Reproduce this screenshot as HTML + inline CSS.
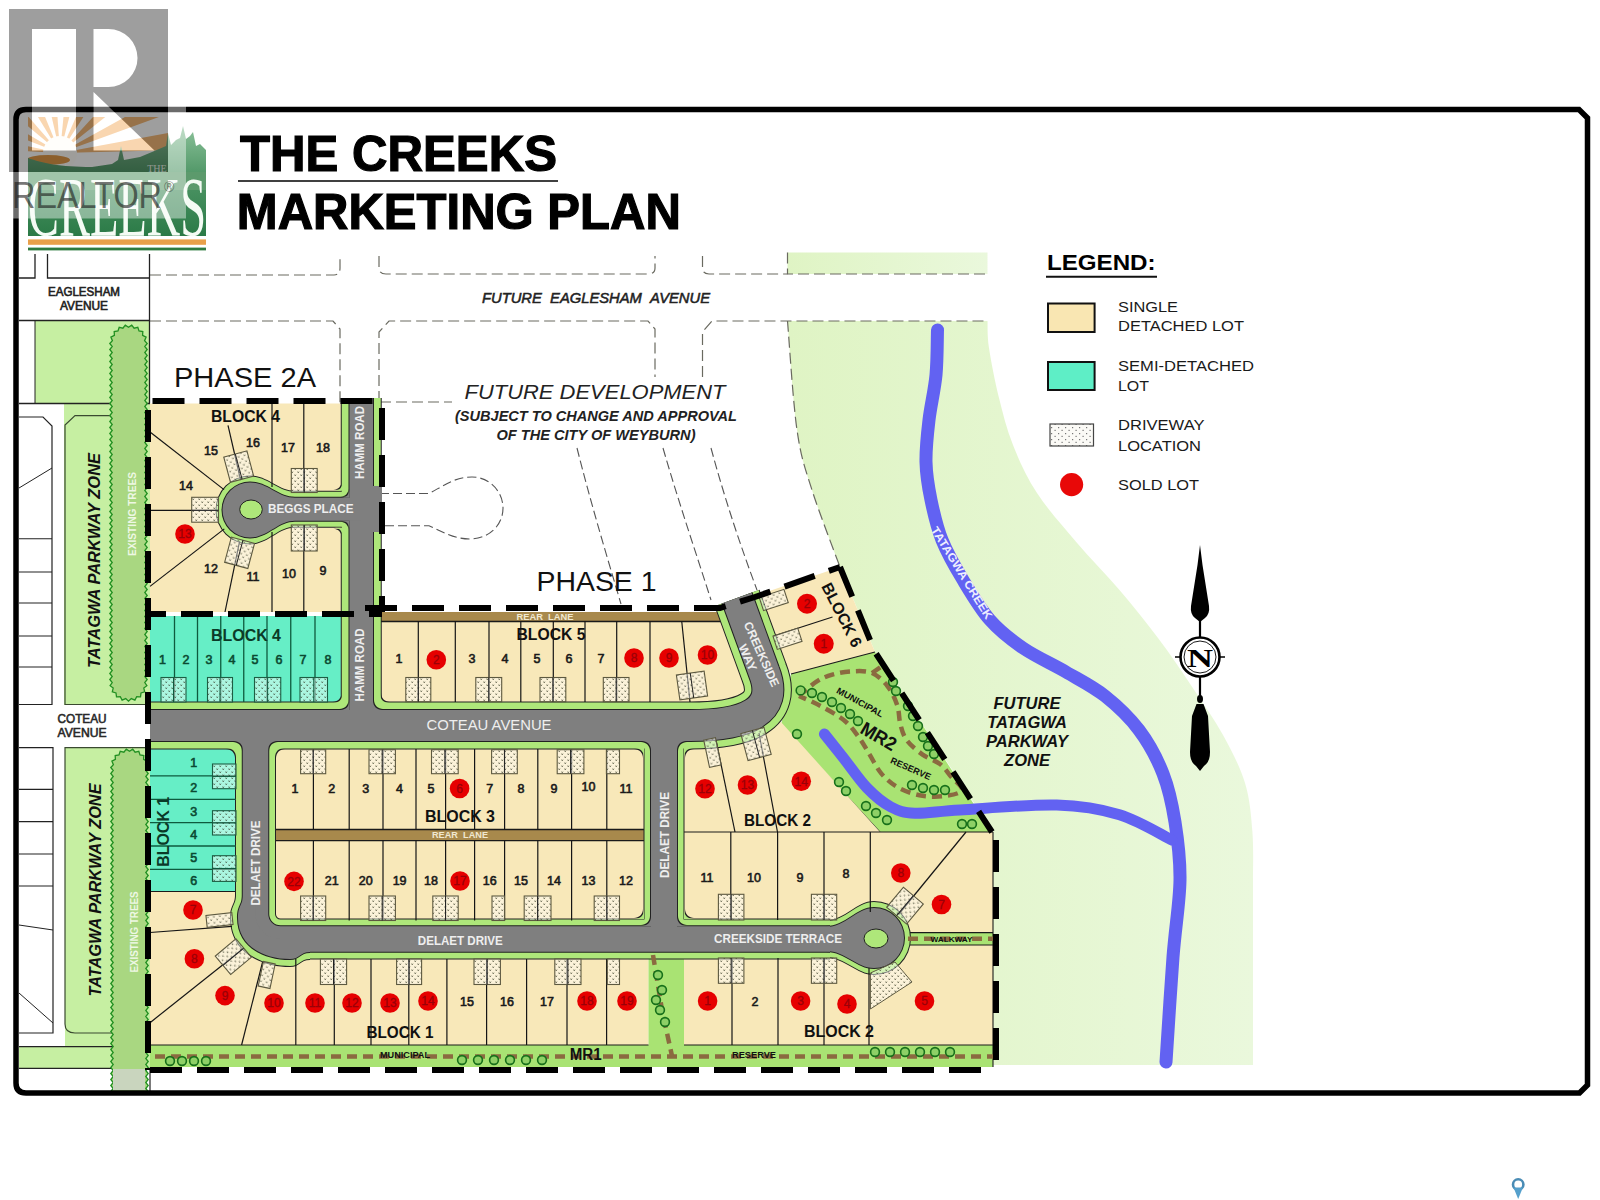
<!DOCTYPE html>
<html><head><meta charset="utf-8"><style>
html,body{margin:0;padding:0;background:#fff;}
body{width:1600px;height:1200px;overflow:hidden;position:relative;}
svg{position:absolute;left:0;top:0;}
text{font-family:"Liberation Sans", sans-serif;}
</style></head><body>
<svg width="1600" height="1200" viewBox="0 0 1600 1200">
<defs><pattern id="dw" width="6" height="6" patternUnits="userSpaceOnUse"><rect width="6" height="6" fill="#ffffff" fill-opacity="0.45"/><path d="M0.5,0.5 L2,2 M2,0.5 L0.5,2 M3.5,3.5 L5,5 M5,3.5 L3.5,5" stroke="#2f3320" stroke-opacity="0.55" stroke-width="0.9"/></pattern></defs>
<defs><linearGradient id="fg" x1="0" y1="0" x2="1" y2="0"><stop offset="0" stop-color="#DFF4C4"/><stop offset="1" stop-color="#EAF8DC"/></linearGradient></defs>
<rect x="787.5" y="252.5" width="200" height="21.5" fill="url(#fg)"/>
<path d="M987.5,321.0 C987.8,325.5 987.1,335.4 989.0,348.0 C990.9,360.6 994.7,380.5 998.7,396.7 C1002.7,412.9 1006.6,428.9 1013.0,445.0 C1019.4,461.1 1026.5,476.9 1037.0,493.0 C1047.5,509.1 1062.2,525.5 1076.0,541.7 C1089.8,557.9 1105.8,574.0 1119.5,590.0 C1133.2,606.0 1145.9,621.9 1158.0,638.0 C1170.1,654.1 1181.2,670.5 1192.0,686.7 C1202.8,702.9 1214.2,719.0 1223.0,735.0 C1231.8,751.0 1240.1,766.9 1245.0,783.0 C1249.9,799.1 1251.1,815.5 1252.4,831.7 C1253.7,847.9 1252.9,872.0 1253.0,880.0 L1253,1065 L993,1065 L993,832 L875,652 L840.0,567.0 C835.3,554.2 819.2,512.8 812.0,490.0 C804.8,467.2 801.1,458.2 797.0,430.0 C792.9,401.8 789.1,339.2 787.5,321.0 Z" fill="url(#fg)" stroke="none" stroke-width="1" />
<path d="M787.5,252.5 L787.5,274 L987.5,274" fill="none" stroke="#6a6a60" stroke-width="1.2" stroke-dasharray="11,5"/>
<path d="M379,256 L379,268 Q379,274 386,274 L648,274 Q655,274 655,268 L655,256" fill="none" stroke="#6a6a60" stroke-width="1.2" stroke-dasharray="11,5"/>
<path d="M702.5,256 L702.5,268 Q702.5,274 709,274 L787.5,274" fill="none" stroke="#6a6a60" stroke-width="1.2" stroke-dasharray="11,5"/>
<path d="M150,275 L334,275 Q340,275 340,268 L340,256" fill="none" stroke="#6a6a60" stroke-width="1.2" stroke-dasharray="11,5"/>
<path d="M150,321 L333,321 L340,329 L340,403" fill="none" stroke="#6a6a60" stroke-width="1.2" stroke-dasharray="11,5"/>
<path d="M379,402 L379,332 L389,321 L648,321 L655,329 L655,377" fill="none" stroke="#6a6a60" stroke-width="1.2" stroke-dasharray="11,5"/>
<path d="M702.5,377 L702.5,332 L712,321 L987.5,321" fill="none" stroke="#6a6a60" stroke-width="1.2" stroke-dasharray="11,5"/>
<path d="M787.5,321.0 C789.1,339.2 792.9,401.8 797.0,430.0 C801.1,458.2 804.8,467.2 812.0,490.0 C819.2,512.8 835.3,554.2 840.0,567.0" fill="none" stroke="#6a6a60" stroke-width="1.2" stroke-dasharray="11,5"/>
<path d="M380,402 L452,402" fill="none" stroke="#6a6a60" stroke-width="1.2" stroke-dasharray="11,5"/>
<path d="M577,448 C590,500 605,550 621,604" fill="none" stroke="#555" stroke-width="1.1" stroke-dasharray="9,4"/>
<path d="M663,448 C678,500 695,550 711,600" fill="none" stroke="#555" stroke-width="1.1" stroke-dasharray="9,4"/>
<path d="M711,448 C725,500 742,550 757,590" fill="none" stroke="#555" stroke-width="1.1" stroke-dasharray="9,4"/>
<path d="M380,493.5 L429,493.5 C445,485 455,477 472,477 C490,477 503,492 503,508 C503,526 488,539 470,539 C455,539 445,533 429,525.7 L380,525.7" fill="none" stroke="#555" stroke-width="1.1" stroke-dasharray="9,4"/>
<defs><clipPath id="clipframe"><rect x="0" y="0" width="1600" height="1091"/></clipPath></defs>
<path d="M35,254 L35,278 L19,278" fill="none" stroke="#222" stroke-width="1.3" />
<path d="M47.5,254 L47.5,278 L149.5,278" fill="none" stroke="#222" stroke-width="1.3" />
<rect x="35" y="320.5" width="114.5" height="83" fill="#C6EFA2"/>
<line x1="19" y1="320.5" x2="149.5" y2="320.5" stroke="#222" stroke-width="1.3" />
<line x1="149.5" y1="254" x2="149.5" y2="403.5" stroke="#222" stroke-width="1.3" />
<line x1="35" y1="320.5" x2="35" y2="403.5" stroke="#222" stroke-width="1" />
<text x="84" y="296" font-size="12" fill="#222" font-weight="normal" font-style="normal" text-anchor="middle" stroke="#222" stroke-width="0.6" textLength="72" lengthAdjust="spacingAndGlyphs">EAGLESHAM</text>
<text x="84" y="309.5" font-size="12" fill="#222" font-weight="normal" font-style="normal" text-anchor="middle" stroke="#222" stroke-width="0.6" textLength="48" lengthAdjust="spacingAndGlyphs">AVENUE</text>
<rect x="64" y="403.5" width="86" height="301.5" fill="#C6EFA2"/>
<path d="M148,415.6 L75,415.6 L65,425 L65,704.5 L148,704.5" fill="none" stroke="#3a4a30" stroke-width="1.2" />
<line x1="19" y1="403.5" x2="150" y2="403.5" stroke="#222" stroke-width="1.5" />
<path d="M19,417 L43,417 L52,426 L52,705" fill="none" stroke="#222" stroke-width="1.2" />
<line x1="19" y1="488" x2="52" y2="468" stroke="#222" stroke-width="1" />
<line x1="19" y1="538.75" x2="52" y2="538.75" stroke="#222" stroke-width="1.2" />
<line x1="19" y1="572" x2="52" y2="572" stroke="#222" stroke-width="1.2" />
<line x1="19" y1="603" x2="52" y2="603" stroke="#222" stroke-width="1.2" />
<line x1="19" y1="636" x2="52" y2="636" stroke="#222" stroke-width="1.2" />
<line x1="19" y1="667" x2="52" y2="667" stroke="#222" stroke-width="1.2" />
<line x1="19" y1="704.5" x2="52" y2="704.5" stroke="#222" stroke-width="1.2" />
<text x="82" y="723" font-size="13" fill="#333" font-weight="normal" font-style="normal" text-anchor="middle" stroke="#222" stroke-width="0.6" textLength="49" lengthAdjust="spacingAndGlyphs">COTEAU</text>
<text x="82" y="736.7" font-size="13" fill="#333" font-weight="normal" font-style="normal" text-anchor="middle" stroke="#222" stroke-width="0.6" textLength="49" lengthAdjust="spacingAndGlyphs">AVENUE</text>
<rect x="65" y="747.5" width="85" height="299" fill="#C6EFA2"/>
<path d="M148,747.7 L65,747.7 L65,1024 Q65,1033 75,1033 L148,1033" fill="none" stroke="#3a4a30" stroke-width="1.2" />
<rect x="19" y="1046.7" width="131" height="21.6" fill="#C6EFA2"/>
<line x1="19" y1="1046.7" x2="150" y2="1046.7" stroke="#222" stroke-width="1.2" />
<line x1="19" y1="1068.3" x2="150" y2="1068.3" stroke="#222" stroke-width="1.2" />
<line x1="150" y1="1068" x2="150" y2="1091" stroke="#222" stroke-width="1.2" />
<path d="M19,747.7 L53,747.7 L53,1033 L19,1033" fill="none" stroke="#222" stroke-width="1.2" />
<line x1="19" y1="789.3" x2="53" y2="789.3" stroke="#222" stroke-width="1.2" />
<line x1="19" y1="821.7" x2="53" y2="821.7" stroke="#222" stroke-width="1.2" />
<line x1="19" y1="854" x2="53" y2="854" stroke="#222" stroke-width="1.2" />
<line x1="19" y1="886" x2="53" y2="886" stroke="#222" stroke-width="1.2" />
<line x1="19" y1="925" x2="53" y2="930" stroke="#222" stroke-width="1" />
<line x1="19" y1="993" x2="53" y2="1023" stroke="#222" stroke-width="1" />
<polygon points="109.8,343.5 112.4,340.7 110.9,337.1 114.4,335.4 114.2,331.5 118.0,331.0 119.2,327.3 122.9,328.2 125.3,325.1 128.5,327.2 131.7,325.1 134.1,328.2 137.8,327.3 139.0,331.0 142.8,331.5 142.6,335.4 146.1,337.1 144.6,340.7 147.2,343.5 144.8,346.5 147.2,349.5 144.8,352.5 147.2,355.5 144.8,358.5 147.2,361.5 144.8,364.5 147.2,367.5 144.8,370.5 147.2,373.5 144.8,376.5 147.2,379.5 144.8,382.5 147.2,385.5 144.8,388.5 147.2,391.5 144.8,394.5 147.2,397.5 144.8,400.5 147.2,403.5 144.8,406.5 147.2,409.5 144.8,412.5 147.2,415.5 144.8,418.5 147.2,421.5 144.8,424.5 147.2,427.5 144.8,430.5 147.2,433.5 144.8,436.5 147.2,439.5 144.8,442.5 147.2,445.5 144.8,448.5 147.2,451.5 144.8,454.5 147.2,457.5 144.8,460.5 147.2,463.5 144.8,466.5 147.2,469.5 144.8,472.5 147.2,475.5 144.8,478.5 147.2,481.5 144.8,484.5 147.2,487.5 144.8,490.5 147.2,493.5 144.8,496.5 147.2,499.5 144.8,502.5 147.2,505.5 144.8,508.5 147.2,511.5 144.8,514.5 147.2,517.5 144.8,520.5 147.2,523.5 144.8,526.5 147.2,529.5 144.8,532.5 147.2,535.5 144.8,538.5 147.2,541.5 144.8,544.5 147.2,547.5 144.8,550.5 147.2,553.5 144.8,556.5 147.2,559.5 144.8,562.5 147.2,565.5 144.8,568.5 147.2,571.5 144.8,574.5 147.2,577.5 144.8,580.5 147.2,583.5 144.8,586.5 147.2,589.5 144.8,592.5 147.2,595.5 144.8,598.5 147.2,601.5 144.8,604.5 147.2,607.5 144.8,610.5 147.2,613.5 144.8,616.5 147.2,619.5 144.8,622.5 147.2,625.5 144.8,628.5 147.2,631.5 144.8,634.5 147.2,637.5 144.8,640.5 147.2,643.5 144.8,646.5 147.2,649.5 144.8,652.5 147.2,655.5 144.8,658.5 147.2,661.5 144.8,664.5 147.2,667.5 144.8,670.5 147.2,673.5 144.8,676.5 147.2,679.5 144.8,682.5 146.9,685.7 143.8,688.1 144.7,691.9 141.0,693.0 140.5,696.8 136.7,696.6 134.9,700.1 131.3,698.6 128.5,701.2 125.7,698.6 122.1,700.1 120.3,696.6 116.5,696.8 116.0,693.0 112.3,691.9 113.2,688.1 110.1,685.7 112.2,682.5 109.8,679.5 112.2,676.5 109.8,673.5 112.2,670.5 109.8,667.5 112.2,664.5 109.8,661.5 112.2,658.5 109.8,655.5 112.2,652.5 109.8,649.5 112.2,646.5 109.8,643.5 112.2,640.5 109.8,637.5 112.2,634.5 109.8,631.5 112.2,628.5 109.8,625.5 112.2,622.5 109.8,619.5 112.2,616.5 109.8,613.5 112.2,610.5 109.8,607.5 112.2,604.5 109.8,601.5 112.2,598.5 109.8,595.5 112.2,592.5 109.8,589.5 112.2,586.5 109.8,583.5 112.2,580.5 109.8,577.5 112.2,574.5 109.8,571.5 112.2,568.5 109.8,565.5 112.2,562.5 109.8,559.5 112.2,556.5 109.8,553.5 112.2,550.5 109.8,547.5 112.2,544.5 109.8,541.5 112.2,538.5 109.8,535.5 112.2,532.5 109.8,529.5 112.2,526.5 109.8,523.5 112.2,520.5 109.8,517.5 112.2,514.5 109.8,511.5 112.2,508.5 109.8,505.5 112.2,502.5 109.8,499.5 112.2,496.5 109.8,493.5 112.2,490.5 109.8,487.5 112.2,484.5 109.8,481.5 112.2,478.5 109.8,475.5 112.2,472.5 109.8,469.5 112.2,466.5 109.8,463.5 112.2,460.5 109.8,457.5 112.2,454.5 109.8,451.5 112.2,448.5 109.8,445.5 112.2,442.5 109.8,439.5 112.2,436.5 109.8,433.5 112.2,430.5 109.8,427.5 112.2,424.5 109.8,421.5 112.2,418.5 109.8,415.5 112.2,412.5 109.8,409.5 112.2,406.5 109.8,403.5 112.2,400.5 109.8,397.5 112.2,394.5 109.8,391.5 112.2,388.5 109.8,385.5 112.2,382.5 109.8,379.5 112.2,376.5 109.8,373.5 112.2,370.5 109.8,367.5 112.2,364.5 109.8,361.5 112.2,358.5 109.8,355.5 112.2,352.5 109.8,349.5 112.2,346.5" fill="#A9D781" stroke="#229022" stroke-width="1.3" clip-path="url(#clipframe)"/>
<polygon points="110.8,767.5 113.4,764.7 111.9,761.1 115.4,759.4 115.2,755.5 119.0,755.0 120.2,751.3 123.9,752.2 126.3,749.1 129.5,751.2 132.7,749.1 135.1,752.2 138.8,751.3 140.0,755.0 143.8,755.5 143.6,759.4 147.1,761.1 145.6,764.7 148.2,767.5 145.8,770.5 148.2,773.5 145.8,776.5 148.2,779.5 145.8,782.5 148.2,785.5 145.8,788.5 148.2,791.5 145.8,794.5 148.2,797.5 145.8,800.5 148.2,803.5 145.8,806.5 148.2,809.5 145.8,812.5 148.2,815.5 145.8,818.5 148.2,821.5 145.8,824.5 148.2,827.5 145.8,830.5 148.2,833.5 145.8,836.5 148.2,839.5 145.8,842.5 148.2,845.5 145.8,848.5 148.2,851.5 145.8,854.5 148.2,857.5 145.8,860.5 148.2,863.5 145.8,866.5 148.2,869.5 145.8,872.5 148.2,875.5 145.8,878.5 148.2,881.5 145.8,884.5 148.2,887.5 145.8,890.5 148.2,893.5 145.8,896.5 148.2,899.5 145.8,902.5 148.2,905.5 145.8,908.5 148.2,911.5 145.8,914.5 148.2,917.5 145.8,920.5 148.2,923.5 145.8,926.5 148.2,929.5 145.8,932.5 148.2,935.5 145.8,938.5 148.2,941.5 145.8,944.5 148.2,947.5 145.8,950.5 148.2,953.5 145.8,956.5 148.2,959.5 145.8,962.5 148.2,965.5 145.8,968.5 148.2,971.5 145.8,974.5 148.2,977.5 145.8,980.5 148.2,983.5 145.8,986.5 148.2,989.5 145.8,992.5 148.2,995.5 145.8,998.5 148.2,1001.5 145.8,1004.5 148.2,1007.5 145.8,1010.5 148.2,1013.5 145.8,1016.5 148.2,1019.5 145.8,1022.5 148.2,1025.5 145.8,1028.5 148.2,1031.5 145.8,1034.5 148.2,1037.5 145.8,1040.5 148.2,1043.5 145.8,1046.5 148.2,1049.5 145.8,1052.5 148.2,1055.5 145.8,1058.5 148.2,1061.5 145.8,1064.5 148.2,1067.5 145.8,1070.5 148.2,1073.5 145.8,1076.5 148.2,1079.5 145.8,1082.5 148.2,1085.5 145.8,1088.5 148.2,1091.5 145.8,1094.5 148.2,1097.5 145.8,1100.5 148.2,1103.5 145.8,1106.5 148.2,1109.5 145.8,1112.5 147.9,1115.7 144.8,1118.1 145.7,1121.8 142.0,1123.0 141.5,1126.8 137.7,1126.6 135.9,1130.1 132.3,1128.6 129.5,1131.2 126.7,1128.6 123.1,1130.1 121.3,1126.6 117.5,1126.8 117.0,1123.0 113.3,1121.8 114.2,1118.1 111.1,1115.7 113.2,1112.5 110.8,1109.5 113.2,1106.5 110.8,1103.5 113.2,1100.5 110.8,1097.5 113.2,1094.5 110.8,1091.5 113.2,1088.5 110.8,1085.5 113.2,1082.5 110.8,1079.5 113.2,1076.5 110.8,1073.5 113.2,1070.5 110.8,1067.5 113.2,1064.5 110.8,1061.5 113.2,1058.5 110.8,1055.5 113.2,1052.5 110.8,1049.5 113.2,1046.5 110.8,1043.5 113.2,1040.5 110.8,1037.5 113.2,1034.5 110.8,1031.5 113.2,1028.5 110.8,1025.5 113.2,1022.5 110.8,1019.5 113.2,1016.5 110.8,1013.5 113.2,1010.5 110.8,1007.5 113.2,1004.5 110.8,1001.5 113.2,998.5 110.8,995.5 113.2,992.5 110.8,989.5 113.2,986.5 110.8,983.5 113.2,980.5 110.8,977.5 113.2,974.5 110.8,971.5 113.2,968.5 110.8,965.5 113.2,962.5 110.8,959.5 113.2,956.5 110.8,953.5 113.2,950.5 110.8,947.5 113.2,944.5 110.8,941.5 113.2,938.5 110.8,935.5 113.2,932.5 110.8,929.5 113.2,926.5 110.8,923.5 113.2,920.5 110.8,917.5 113.2,914.5 110.8,911.5 113.2,908.5 110.8,905.5 113.2,902.5 110.8,899.5 113.2,896.5 110.8,893.5 113.2,890.5 110.8,887.5 113.2,884.5 110.8,881.5 113.2,878.5 110.8,875.5 113.2,872.5 110.8,869.5 113.2,866.5 110.8,863.5 113.2,860.5 110.8,857.5 113.2,854.5 110.8,851.5 113.2,848.5 110.8,845.5 113.2,842.5 110.8,839.5 113.2,836.5 110.8,833.5 113.2,830.5 110.8,827.5 113.2,824.5 110.8,821.5 113.2,818.5 110.8,815.5 113.2,812.5 110.8,809.5 113.2,806.5 110.8,803.5 113.2,800.5 110.8,797.5 113.2,794.5 110.8,791.5 113.2,788.5 110.8,785.5 113.2,782.5 110.8,779.5 113.2,776.5 110.8,773.5 113.2,770.5" fill="#A9D781" stroke="#229022" stroke-width="1.3" clip-path="url(#clipframe)"/>
<rect x="113" y="1069" width="32" height="21" fill="#C9D5BE"/>
<text x="100" y="560.5" font-size="17" fill="#111" font-weight="bold" font-style="italic" text-anchor="middle" transform="rotate(-90 100 560.5)" textLength="215" lengthAdjust="spacingAndGlyphs">TATAGWA PARKWAY ZONE</text>
<text x="135.5" y="514" font-size="11" fill="#EEF7E4" font-weight="bold" font-style="normal" text-anchor="middle" transform="rotate(-90 135.5 514)" textLength="84" lengthAdjust="spacingAndGlyphs">EXISTING TREES</text>
<text x="101" y="890" font-size="17" fill="#111" font-weight="bold" font-style="italic" text-anchor="middle" transform="rotate(-90 101 890)" textLength="213" lengthAdjust="spacingAndGlyphs">TATAGWA PARKWAY ZONE</text>
<text x="137.5" y="932" font-size="11" fill="#EEF7E4" font-weight="bold" font-style="normal" text-anchor="middle" transform="rotate(-90 137.5 932)" textLength="81" lengthAdjust="spacingAndGlyphs">EXISTING TREES</text>
<rect x="150" y="403.5" width="195" height="208.5" fill="#F8E8B9"/>
<rect x="150" y="616" width="195" height="86" fill="#66EEC6"/>
<polygon points="375,621 725,621 765,702 375,702" fill="#F8E8B9" stroke="none" stroke-width="1" />
<rect x="375" y="612" width="347" height="9.3" fill="#A8894C"/>
<line x1="375" y1="621.5" x2="722" y2="621.5" stroke="#1a1a1a" stroke-width="1.5" />
<polygon points="752,597 840,567 875,652 791,674" fill="#F8E8B9" stroke="none" stroke-width="1" />
<polygon points="791,674 875,652 992,832 880,832 781,725" fill="#A9E373" stroke="none" stroke-width="1" />
<line x1="791" y1="674" x2="875" y2="652" stroke="#1a1a1a" stroke-width="1.1" />
<line x1="781" y1="725" x2="880" y2="832" stroke="#1a1a1a" stroke-width="1.1" />
<polygon points="677,741 781,722 880,832 993,832 993,940 677,940" fill="#F8E8B9" stroke="none" stroke-width="1" />
<line x1="684" y1="832" x2="993" y2="832" stroke="#1a1a1a" stroke-width="1.2" />
<rect x="268" y="741" width="383" height="185" fill="#F8E8B9"/>
<rect x="275" y="829.4" width="376" height="11.2" fill="#A8894C"/>
<line x1="275" y1="829.4" x2="651" y2="829.4" stroke="#1a1a1a" stroke-width="1.5" />
<line x1="275" y1="840.6" x2="651" y2="840.6" stroke="#1a1a1a" stroke-width="1.2" />
<rect x="150" y="741" width="93" height="150.5" fill="#66EEC6"/>
<polygon points="150,891.5 243,891.5 243,926 300,926 300,959 648.5,959 648.5,1045 150,1045" fill="#F8E8B9" stroke="none" stroke-width="1" />
<line x1="150" y1="891.5" x2="240" y2="891.5" stroke="#1a1a1a" stroke-width="1.2" />
<rect x="648.5" y="952" width="35.5" height="115" fill="#A9E373"/>
<rect x="684" y="938" width="309" height="107" fill="#F8E8B9"/>
<rect x="150" y="1045" width="843" height="22" fill="#A9E373"/>
<line x1="150" y1="1045" x2="648.5" y2="1045" stroke="#1a1a1a" stroke-width="1.2" />
<line x1="684" y1="1045" x2="993" y2="1045" stroke="#1a1a1a" stroke-width="1.2" />
<rect x="906" y="932.6" width="87" height="12.4" fill="#A9E373"/>
<line x1="906" y1="932.6" x2="993" y2="932.6" stroke="#1a1a1a" stroke-width="1.1" />
<line x1="906" y1="945" x2="993" y2="945" stroke="#1a1a1a" stroke-width="1.1" />
<line x1="993" y1="832" x2="993" y2="1067" stroke="#1a1a1a" stroke-width="1.1" />
<path d="M937.5,330.0 C937.2,337.5 937.4,360.0 936.0,375.0 C934.6,390.0 930.7,405.5 929.0,420.0 C927.3,434.5 925.7,448.7 926.0,462.0 C926.3,475.3 928.3,487.0 931.0,500.0 C933.7,513.0 936.7,526.7 942.0,540.0 C947.3,553.3 955.0,566.7 963.0,580.0 C971.0,593.3 980.0,608.7 990.0,620.0 C1000.0,631.3 1010.3,639.3 1023.0,648.0 C1035.7,656.7 1052.3,664.0 1066.0,672.0 C1079.7,680.0 1092.8,686.3 1105.0,696.0 C1117.2,705.7 1129.3,717.1 1139.0,730.0 C1148.7,742.9 1157.0,758.3 1163.0,773.6 C1169.0,788.9 1172.2,804.3 1175.0,822.0 C1177.8,839.7 1180.3,857.5 1180.0,880.0 C1179.7,902.5 1175.3,926.7 1173.0,957.0 C1170.7,987.3 1167.2,1044.5 1166.0,1062.0" fill="none" stroke="#6262F2" stroke-width="13" stroke-linecap="round"/>
<path d="M824.4,734.0 C827.6,738.0 836.3,748.8 843.4,757.8 C850.5,766.8 859.1,779.7 867.0,787.9 C874.9,796.1 883.0,802.8 891.0,807.0 C899.0,811.2 903.2,812.7 914.7,813.2 C926.2,813.7 936.3,811.4 960.0,810.0 C983.7,808.6 1030.1,804.2 1056.7,805.0 C1083.3,805.8 1100.3,808.9 1119.5,814.7 C1138.7,820.5 1163.2,835.8 1172.0,840.0" fill="none" stroke="#6262F2" stroke-width="11" stroke-linecap="round"/>
<path d="M361.25,398 L361.25,726" fill="none" stroke="#222" stroke-width="41" stroke-linejoin="round"/>
<path d="M150,725.5 L690,725.5 C745,725.5 780,712 764,672 L737,598" fill="none" stroke="#222" stroke-width="48" stroke-linejoin="round"/>
<path d="M255.5,725 L255.5,914 A25,25 0 0 0 280.5,939 L830,939" fill="none" stroke="#222" stroke-width="41" stroke-linejoin="round"/>
<path d="M664,725 L664,939" fill="none" stroke="#222" stroke-width="41" stroke-linejoin="round"/>
<path d="M255.5,880 L235,880 L235,895 C235,905 230,905 230,918 C230,953 262,967 290,967 C300,967 300,960 310,960 L310,939 L280.5,939 A25,25 0 0 1 255.5,914 Z" fill="#222"/>
<path d="M250,475.5 C268,475.5 278,490.7 295,490.7 L361,490.7 L361,527.8 L295,527.8 C278,527.8 268,544.5 250,544.5 A34.5,34.5 0 0 1 250,475.5 Z" fill="#222"/>
<path d="M874,901 A37,37 0 0 1 874,975 C856,975 846,958 826,958 L760,958 L760,920 L826,920 C846,920 856,901 874,901 Z" fill="#222"/>
<polygon points="341.5,702.0 332.5,702.0 334.3,701.8 335.9,701.3 337.5,700.5 338.9,699.4 340.0,698.0 340.8,696.4 341.3,694.8 341.5,693.0" fill="#222"/>
<polygon points="381.0,702.0 390.0,702.0 388.2,701.8 386.6,701.3 385.0,700.5 383.6,699.4 382.5,698.0 381.7,696.4 381.2,694.8 381.0,693.0" fill="#222"/>
<polygon points="235.0,749.0 226.0,749.0 227.8,749.2 229.4,749.7 231.0,750.5 232.4,751.6 233.5,753.0 234.3,754.6 234.8,756.2 235.0,758.0" fill="#222"/>
<polygon points="276.0,749.0 285.0,749.0 283.2,749.2 281.6,749.7 280.0,750.5 278.6,751.6 277.5,753.0 276.7,754.6 276.2,756.2 276.0,758.0" fill="#222"/>
<polygon points="643.0,749.0 634.0,749.0 635.8,749.2 637.4,749.7 639.0,750.5 640.4,751.6 641.5,753.0 642.3,754.6 642.8,756.2 643.0,758.0" fill="#222"/>
<polygon points="685.0,749.0 694.0,749.0 692.2,749.2 690.6,749.7 689.0,750.5 687.6,751.6 686.5,753.0 685.7,754.6 685.2,756.2 685.0,758.0" fill="#222"/>
<polygon points="643.0,918.0 634.0,918.0 635.8,917.8 637.4,917.3 639.0,916.5 640.4,915.4 641.5,914.0 642.3,912.4 642.8,910.8 643.0,909.0" fill="#222"/>
<polygon points="685.0,918.0 694.0,918.0 692.2,917.8 690.6,917.3 689.0,916.5 687.6,915.4 686.5,914.0 685.7,912.4 685.2,910.8 685.0,909.0" fill="#222"/>
<polygon points="341.5,489.7 333.5,489.7 335.1,489.5 336.6,489.1 337.9,488.4 339.2,487.4 340.2,486.1 340.9,484.8 341.3,483.3 341.5,481.7" fill="#222"/>
<polygon points="341.5,528.8 333.5,528.8 335.1,529.0 336.6,529.4 337.9,530.1 339.2,531.1 340.2,532.4 340.9,533.7 341.3,535.2 341.5,536.8" fill="#222"/>
<path d="M361.25,398 L361.25,726" fill="none" stroke="#AEE77A" stroke-width="39" stroke-linejoin="round"/>
<path d="M150,725.5 L690,725.5 C745,725.5 780,712 764,672 L737,598" fill="none" stroke="#AEE77A" stroke-width="46" stroke-linejoin="round"/>
<path d="M255.5,725 L255.5,914 A25,25 0 0 0 280.5,939 L830,939" fill="none" stroke="#AEE77A" stroke-width="39" stroke-linejoin="round"/>
<path d="M664,725 L664,939" fill="none" stroke="#AEE77A" stroke-width="39" stroke-linejoin="round"/>
<path d="M255.5,880 L236,880 L236,895 C236,905 231,905 231,918 C231,952 262,966 290,966 C300,966 300,959 310,959 L310,939 L280.5,939 A25,25 0 0 1 255.5,914 Z" fill="#AEE77A"/>
<path d="M250,476.5 C268,476.5 278,491.7 295,491.7 L361,491.7 L361,526.8 L295,526.8 C278,526.8 268,543.5 250,543.5 A33.5,33.5 0 0 1 250,476.5 Z" fill="#AEE77A"/>
<path d="M874,902 A36,36 0 0 1 874,974 C856,974 846,957 826,957 L760,957 L760,921 L826,921 C846,921 856,902 874,902 Z" fill="#AEE77A"/>
<polygon points="342.5,703.0 333.5,703.0 335.3,702.8 336.9,702.3 338.5,701.5 339.9,700.4 341.0,699.0 341.8,697.4 342.3,695.8 342.5,694.0" fill="#AEE77A"/>
<polygon points="380.0,703.0 389.0,703.0 387.2,702.8 385.6,702.3 384.0,701.5 382.6,700.4 381.5,699.0 380.7,697.4 380.2,695.8 380.0,694.0" fill="#AEE77A"/>
<polygon points="236.0,748.0 227.0,748.0 228.8,748.2 230.4,748.7 232.0,749.5 233.4,750.6 234.5,752.0 235.3,753.6 235.8,755.2 236.0,757.0" fill="#AEE77A"/>
<polygon points="275.0,748.0 284.0,748.0 282.2,748.2 280.6,748.7 279.0,749.5 277.6,750.6 276.5,752.0 275.7,753.6 275.2,755.2 275.0,757.0" fill="#AEE77A"/>
<polygon points="644.0,748.0 635.0,748.0 636.8,748.2 638.4,748.7 640.0,749.5 641.4,750.6 642.5,752.0 643.3,753.6 643.8,755.2 644.0,757.0" fill="#AEE77A"/>
<polygon points="684.0,748.0 693.0,748.0 691.2,748.2 689.6,748.7 688.0,749.5 686.6,750.6 685.5,752.0 684.7,753.6 684.2,755.2 684.0,757.0" fill="#AEE77A"/>
<polygon points="644.0,919.0 635.0,919.0 636.8,918.8 638.4,918.3 640.0,917.5 641.4,916.4 642.5,915.0 643.3,913.4 643.8,911.8 644.0,910.0" fill="#AEE77A"/>
<polygon points="684.0,919.0 693.0,919.0 691.2,918.8 689.6,918.3 688.0,917.5 686.6,916.4 685.5,915.0 684.7,913.4 684.2,911.8 684.0,910.0" fill="#AEE77A"/>
<polygon points="342.5,490.7 334.5,490.7 336.1,490.5 337.6,490.1 338.9,489.4 340.2,488.4 341.2,487.1 341.9,485.8 342.3,484.3 342.5,482.7" fill="#AEE77A"/>
<polygon points="342.5,527.8 334.5,527.8 336.1,528.0 337.6,528.4 338.9,529.1 340.2,530.1 341.2,531.4 341.9,532.7 342.3,534.2 342.5,535.8" fill="#AEE77A"/>
<path d="M361.25,398 L361.25,726" fill="none" stroke="#222" stroke-width="25.5" stroke-linejoin="round"/>
<path d="M150,725.5 L690,725.5 C745,725.5 780,712 764,672 L737,598" fill="none" stroke="#222" stroke-width="33" stroke-linejoin="round"/>
<path d="M255.5,725 L255.5,914 A25,25 0 0 0 280.5,939 L830,939" fill="none" stroke="#222" stroke-width="27.5" stroke-linejoin="round"/>
<path d="M664,725 L664,939" fill="none" stroke="#222" stroke-width="28" stroke-linejoin="round"/>
<path d="M255.5,880 L242,880 L242,895 C242,905 237,905 237,918 C237,946 262,960 290,960 C300,960 300,953 310,953 L310,939 L280.5,939 A25,25 0 0 1 255.5,914 Z" fill="#222"/>
<path d="M250,481.5 C268,481.5 278,496.7 295,496.7 L361,496.7 L361,521.8 L295,521.8 C278,521.8 268,538.5 250,538.5 A28.5,28.5 0 0 1 250,481.5 Z" fill="#222"/>
<path d="M874,907 A31,31 0 0 1 874,969 C856,969 846,952 826,952 L760,952 L760,926 L826,926 C846,926 856,907 874,907 Z" fill="#222"/>
<polygon points="348.5,709.0 339.5,709.0 341.3,708.8 342.9,708.3 344.5,707.5 345.9,706.4 347.0,705.0 347.8,703.4 348.3,701.8 348.5,700.0" fill="#222"/>
<polygon points="374.0,709.0 383.0,709.0 381.2,708.8 379.6,708.3 378.0,707.5 376.6,706.4 375.5,705.0 374.7,703.4 374.2,701.8 374.0,700.0" fill="#222"/>
<polygon points="242.0,742.0 233.0,742.0 234.8,742.2 236.4,742.7 238.0,743.5 239.4,744.6 240.5,746.0 241.3,747.6 241.8,749.2 242.0,751.0" fill="#222"/>
<polygon points="269.0,742.0 278.0,742.0 276.2,742.2 274.6,742.7 273.0,743.5 271.6,744.6 270.5,746.0 269.7,747.6 269.2,749.2 269.0,751.0" fill="#222"/>
<polygon points="650.0,742.0 641.0,742.0 642.8,742.2 644.4,742.7 646.0,743.5 647.4,744.6 648.5,746.0 649.3,747.6 649.8,749.2 650.0,751.0" fill="#222"/>
<polygon points="678.0,742.0 687.0,742.0 685.2,742.2 683.6,742.7 682.0,743.5 680.6,744.6 679.5,746.0 678.7,747.6 678.2,749.2 678.0,751.0" fill="#222"/>
<polygon points="650.0,925.0 641.0,925.0 642.8,924.8 644.4,924.3 646.0,923.5 647.4,922.4 648.5,921.0 649.3,919.4 649.8,917.8 650.0,916.0" fill="#222"/>
<polygon points="678.0,925.0 687.0,925.0 685.2,924.8 683.6,924.3 682.0,923.5 680.6,922.4 679.5,921.0 678.7,919.4 678.2,917.8 678.0,916.0" fill="#222"/>
<polygon points="348.5,496.7 340.5,496.7 342.1,496.5 343.6,496.1 344.9,495.4 346.2,494.4 347.2,493.1 347.9,491.8 348.3,490.3 348.5,488.7" fill="#222"/>
<polygon points="348.5,521.8 340.5,521.8 342.1,522.0 343.6,522.4 344.9,523.1 346.2,524.1 347.2,525.4 347.9,526.7 348.3,528.2 348.5,529.8" fill="#222"/>
<path d="M361.25,398 L361.25,726" fill="none" stroke="#7F7F7F" stroke-width="23.5" stroke-linejoin="round"/>
<path d="M150,725.5 L690,725.5 C745,725.5 780,712 764,672 L737,598" fill="none" stroke="#7F7F7F" stroke-width="31" stroke-linejoin="round"/>
<path d="M255.5,725 L255.5,914 A25,25 0 0 0 280.5,939 L830,939" fill="none" stroke="#7F7F7F" stroke-width="25.5" stroke-linejoin="round"/>
<path d="M664,725 L664,939" fill="none" stroke="#7F7F7F" stroke-width="26" stroke-linejoin="round"/>
<path d="M255.5,880 L243,880 L243,895 C243,905 238,905 238,918 C238,945 262,959 290,959 C300,959 300,952 310,952 L310,939 L280.5,939 A25,25 0 0 1 255.5,914 Z" fill="#7F7F7F"/>
<path d="M250,482.5 C268,482.5 278,497.7 295,497.7 L361,497.7 L361,520.8 L295,520.8 C278,520.8 268,537.5 250,537.5 A27.5,27.5 0 0 1 250,482.5 Z" fill="#7F7F7F"/>
<path d="M874,908 A30,30 0 0 1 874,968 C856,968 846,951 826,951 L760,951 L760,927 L826,927 C846,927 856,908 874,908 Z" fill="#7F7F7F"/>
<polygon points="349.5,710.0 340.5,710.0 342.3,709.8 343.9,709.3 345.5,708.5 346.9,707.4 348.0,706.0 348.8,704.4 349.3,702.8 349.5,701.0" fill="#7F7F7F"/>
<polygon points="373.0,710.0 382.0,710.0 380.2,709.8 378.6,709.3 377.0,708.5 375.6,707.4 374.5,706.0 373.7,704.4 373.2,702.8 373.0,701.0" fill="#7F7F7F"/>
<polygon points="243.0,741.0 234.0,741.0 235.8,741.2 237.4,741.7 239.0,742.5 240.4,743.6 241.5,745.0 242.3,746.6 242.8,748.2 243.0,750.0" fill="#7F7F7F"/>
<polygon points="268.0,741.0 277.0,741.0 275.2,741.2 273.6,741.7 272.0,742.5 270.6,743.6 269.5,745.0 268.7,746.6 268.2,748.2 268.0,750.0" fill="#7F7F7F"/>
<polygon points="651.0,741.0 642.0,741.0 643.8,741.2 645.4,741.7 647.0,742.5 648.4,743.6 649.5,745.0 650.3,746.6 650.8,748.2 651.0,750.0" fill="#7F7F7F"/>
<polygon points="677.0,741.0 686.0,741.0 684.2,741.2 682.6,741.7 681.0,742.5 679.6,743.6 678.5,745.0 677.7,746.6 677.2,748.2 677.0,750.0" fill="#7F7F7F"/>
<polygon points="651.0,926.0 642.0,926.0 643.8,925.8 645.4,925.3 647.0,924.5 648.4,923.4 649.5,922.0 650.3,920.4 650.8,918.8 651.0,917.0" fill="#7F7F7F"/>
<polygon points="677.0,926.0 686.0,926.0 684.2,925.8 682.6,925.3 681.0,924.5 679.6,923.4 678.5,922.0 677.7,920.4 677.2,918.8 677.0,917.0" fill="#7F7F7F"/>
<polygon points="349.5,497.7 341.5,497.7 343.1,497.5 344.6,497.1 345.9,496.4 347.2,495.4 348.2,494.1 348.9,492.8 349.3,491.3 349.5,489.7" fill="#7F7F7F"/>
<polygon points="349.5,520.8 341.5,520.8 343.1,521.0 344.6,521.4 345.9,522.1 347.2,523.1 348.2,524.4 348.9,525.7 349.3,527.2 349.5,528.8" fill="#7F7F7F"/>
<rect x="373" y="486" width="9" height="46" fill="#7F7F7F"/>
<ellipse cx="251" cy="509.5" rx="11.3" ry="9.5" fill="#AEE77A" stroke="#222" stroke-width="1"/>
<ellipse cx="876" cy="938.5" rx="12" ry="9.5" fill="#AEE77A" stroke="#222" stroke-width="1"/>
<line x1="272" y1="403.5" x2="272" y2="487" stroke="#151515" stroke-width="1.2" />
<line x1="272" y1="532" x2="272" y2="612" stroke="#151515" stroke-width="1.2" />
<line x1="303.8" y1="403.5" x2="303.8" y2="493" stroke="#151515" stroke-width="1.2" />
<line x1="303.8" y1="525" x2="303.8" y2="612" stroke="#151515" stroke-width="1.2" />
<line x1="228" y1="425.4" x2="240.6" y2="480" stroke="#151515" stroke-width="1.2" />
<line x1="150" y1="432" x2="224" y2="489.6" stroke="#151515" stroke-width="1.2" />
<line x1="150" y1="510.3" x2="218" y2="510.3" stroke="#151515" stroke-width="1.2" />
<line x1="150" y1="586.4" x2="224.3" y2="528.9" stroke="#151515" stroke-width="1.2" />
<line x1="225" y1="612" x2="239.6" y2="541.3" stroke="#151515" stroke-width="1.2" />
<line x1="174.5" y1="616" x2="174.5" y2="702" stroke="#0E5A3E" stroke-width="1.3" />
<line x1="197.5" y1="616" x2="197.5" y2="702" stroke="#0E5A3E" stroke-width="1.3" />
<line x1="220.75" y1="616" x2="220.75" y2="702" stroke="#0E5A3E" stroke-width="1.3" />
<line x1="243.75" y1="616" x2="243.75" y2="702" stroke="#0E5A3E" stroke-width="1.3" />
<line x1="267" y1="616" x2="267" y2="702" stroke="#0E5A3E" stroke-width="1.3" />
<line x1="290.75" y1="616" x2="290.75" y2="702" stroke="#0E5A3E" stroke-width="1.3" />
<line x1="315" y1="616" x2="315" y2="702" stroke="#0E5A3E" stroke-width="1.3" />
<line x1="418.3" y1="621" x2="418.3" y2="702" stroke="#151515" stroke-width="1.2" />
<line x1="455.3" y1="621" x2="455.3" y2="702" stroke="#151515" stroke-width="1.2" />
<line x1="489" y1="621" x2="489" y2="702" stroke="#151515" stroke-width="1.2" />
<line x1="520.8" y1="621" x2="520.8" y2="702" stroke="#151515" stroke-width="1.2" />
<line x1="553.3" y1="621" x2="553.3" y2="702" stroke="#151515" stroke-width="1.2" />
<line x1="585" y1="621" x2="585" y2="702" stroke="#151515" stroke-width="1.2" />
<line x1="616.7" y1="621" x2="616.7" y2="702" stroke="#151515" stroke-width="1.2" />
<line x1="650" y1="621" x2="650" y2="702" stroke="#151515" stroke-width="1.2" />
<line x1="681.7" y1="621" x2="690" y2="702" stroke="#151515" stroke-width="1.2" />
<line x1="773.75" y1="636" x2="832.5" y2="617" stroke="#151515" stroke-width="1.2" />
<line x1="716" y1="740" x2="735" y2="832" stroke="#151515" stroke-width="1.2" />
<line x1="759" y1="733" x2="777.5" y2="832" stroke="#151515" stroke-width="1.2" />
<line x1="730.8" y1="832" x2="730.8" y2="920" stroke="#151515" stroke-width="1.2" />
<line x1="777.6" y1="832" x2="777.6" y2="920" stroke="#151515" stroke-width="1.2" />
<line x1="824" y1="832" x2="824" y2="920" stroke="#151515" stroke-width="1.2" />
<line x1="870.3" y1="832" x2="870.3" y2="912" stroke="#151515" stroke-width="1.2" />
<line x1="966" y1="832" x2="898.5" y2="914.5" stroke="#151515" stroke-width="1.2" />
<line x1="732" y1="958" x2="732" y2="1045" stroke="#151515" stroke-width="1.2" />
<line x1="778" y1="958" x2="778" y2="1045" stroke="#151515" stroke-width="1.2" />
<line x1="824" y1="958" x2="824" y2="1045" stroke="#151515" stroke-width="1.2" />
<line x1="869" y1="968" x2="869" y2="1045" stroke="#151515" stroke-width="1.2" />
<line x1="313.4" y1="749" x2="313.4" y2="829.4" stroke="#151515" stroke-width="1.2" />
<line x1="313.4" y1="840.6" x2="313.4" y2="920.5" stroke="#151515" stroke-width="1.2" />
<line x1="349.2" y1="749" x2="349.2" y2="829.4" stroke="#151515" stroke-width="1.2" />
<line x1="349.2" y1="840.6" x2="349.2" y2="920.5" stroke="#151515" stroke-width="1.2" />
<line x1="383" y1="749" x2="383" y2="829.4" stroke="#151515" stroke-width="1.2" />
<line x1="383" y1="840.6" x2="383" y2="920.5" stroke="#151515" stroke-width="1.2" />
<line x1="416" y1="749" x2="416" y2="829.4" stroke="#151515" stroke-width="1.2" />
<line x1="416" y1="840.6" x2="416" y2="920.5" stroke="#151515" stroke-width="1.2" />
<line x1="445.6" y1="749" x2="445.6" y2="829.4" stroke="#151515" stroke-width="1.2" />
<line x1="445.6" y1="840.6" x2="445.6" y2="920.5" stroke="#151515" stroke-width="1.2" />
<line x1="474.6" y1="749" x2="474.6" y2="829.4" stroke="#151515" stroke-width="1.2" />
<line x1="474.6" y1="840.6" x2="474.6" y2="920.5" stroke="#151515" stroke-width="1.2" />
<line x1="504.6" y1="749" x2="504.6" y2="829.4" stroke="#151515" stroke-width="1.2" />
<line x1="504.6" y1="840.6" x2="504.6" y2="920.5" stroke="#151515" stroke-width="1.2" />
<line x1="537.8" y1="749" x2="537.8" y2="829.4" stroke="#151515" stroke-width="1.2" />
<line x1="537.8" y1="840.6" x2="537.8" y2="920.5" stroke="#151515" stroke-width="1.2" />
<line x1="571.6" y1="749" x2="571.6" y2="829.4" stroke="#151515" stroke-width="1.2" />
<line x1="571.6" y1="840.6" x2="571.6" y2="920.5" stroke="#151515" stroke-width="1.2" />
<line x1="606.8" y1="749" x2="606.8" y2="829.4" stroke="#151515" stroke-width="1.2" />
<line x1="606.8" y1="840.6" x2="606.8" y2="920.5" stroke="#151515" stroke-width="1.2" />
<line x1="150" y1="775.9" x2="236" y2="775.9" stroke="#0E5A3E" stroke-width="1.3" />
<line x1="150" y1="799.4" x2="236" y2="799.4" stroke="#0E5A3E" stroke-width="1.3" />
<line x1="150" y1="822.6" x2="236" y2="822.6" stroke="#0E5A3E" stroke-width="1.3" />
<line x1="150" y1="846" x2="236" y2="846" stroke="#0E5A3E" stroke-width="1.3" />
<line x1="150" y1="869.4" x2="236" y2="869.4" stroke="#0E5A3E" stroke-width="1.3" />
<line x1="150" y1="932.5" x2="232" y2="926.4" stroke="#151515" stroke-width="1.2" />
<line x1="150" y1="1022.7" x2="242.4" y2="949.2" stroke="#151515" stroke-width="1.2" />
<line x1="241.6" y1="1045" x2="262.6" y2="962" stroke="#151515" stroke-width="1.2" />
<line x1="295.8" y1="959" x2="295.8" y2="1045" stroke="#151515" stroke-width="1.2" />
<line x1="334.3" y1="959" x2="334.3" y2="1045" stroke="#151515" stroke-width="1.2" />
<line x1="371" y1="959" x2="371" y2="1045" stroke="#151515" stroke-width="1.2" />
<line x1="408.8" y1="959" x2="408.8" y2="1045" stroke="#151515" stroke-width="1.2" />
<line x1="446.9" y1="959" x2="446.9" y2="1045" stroke="#151515" stroke-width="1.2" />
<line x1="486.6" y1="959" x2="486.6" y2="1045" stroke="#151515" stroke-width="1.2" />
<line x1="526.6" y1="959" x2="526.6" y2="1045" stroke="#151515" stroke-width="1.2" />
<line x1="567" y1="959" x2="567" y2="1045" stroke="#151515" stroke-width="1.2" />
<line x1="606.6" y1="959" x2="606.6" y2="1045" stroke="#151515" stroke-width="1.2" />
<g transform="rotate(-15 238.7 466.6)"><rect x="226.7" y="453.6" width="24" height="26" fill="url(#dw)" stroke="#5d5940" stroke-width="1.1"/><line x1="238.7" y1="453.6" x2="238.7" y2="479.6" stroke="#222" stroke-width="1"/></g>
<g><rect x="291.3" y="468.5" width="25.9" height="24" fill="url(#dw)" stroke="#5d5940" stroke-width="1.1"/><line x1="304.25" y1="468.5" x2="304.25" y2="492.5" stroke="#222" stroke-width="1"/></g>
<g><rect x="191.7" y="497.3" width="26.8" height="24.9" fill="url(#dw)" stroke="#5d5940" stroke-width="1.1"/></g>
<line x1="191.7" y1="510.3" x2="218.5" y2="510.3" stroke="#222" stroke-width="1" />
<g transform="rotate(15 239.6 552.8)"><rect x="227.6" y="539.8" width="24" height="26" fill="url(#dw)" stroke="#5d5940" stroke-width="1.1"/><line x1="239.6" y1="539.8" x2="239.6" y2="565.8" stroke="#222" stroke-width="1"/></g>
<g><rect x="291.3" y="525" width="25.9" height="26" fill="url(#dw)" stroke="#5d5940" stroke-width="1.1"/><line x1="304.25" y1="525" x2="304.25" y2="551" stroke="#222" stroke-width="1"/></g>
<g><rect x="161" y="677.5" width="25" height="24.5" fill="url(#dw)" stroke="#1d5e44" stroke-width="1.1"/><line x1="173.5" y1="677.5" x2="173.5" y2="702.0" stroke="#0E5A3E" stroke-width="1"/></g>
<g><rect x="207.5" y="677.5" width="25.0" height="24.5" fill="url(#dw)" stroke="#1d5e44" stroke-width="1.1"/><line x1="220.0" y1="677.5" x2="220.0" y2="702.0" stroke="#0E5A3E" stroke-width="1"/></g>
<g><rect x="254.5" y="677.5" width="26.25" height="24.5" fill="url(#dw)" stroke="#1d5e44" stroke-width="1.1"/><line x1="267.625" y1="677.5" x2="267.625" y2="702.0" stroke="#0E5A3E" stroke-width="1"/></g>
<g><rect x="300" y="677.5" width="27.5" height="24.5" fill="url(#dw)" stroke="#1d5e44" stroke-width="1.1"/><line x1="313.75" y1="677.5" x2="313.75" y2="702.0" stroke="#0E5A3E" stroke-width="1"/></g>
<g><rect x="405.8" y="677.5" width="25.0" height="24.2" fill="url(#dw)" stroke="#5d5940" stroke-width="1.1"/><line x1="418.3" y1="677.5" x2="418.3" y2="701.7" stroke="#222" stroke-width="1"/></g>
<g><rect x="475.8" y="677.5" width="25.899999999999977" height="24.2" fill="url(#dw)" stroke="#5d5940" stroke-width="1.1"/><line x1="488.75" y1="677.5" x2="488.75" y2="701.7" stroke="#222" stroke-width="1"/></g>
<g><rect x="540" y="677.5" width="25.799999999999955" height="24.2" fill="url(#dw)" stroke="#5d5940" stroke-width="1.1"/><line x1="552.9" y1="677.5" x2="552.9" y2="701.7" stroke="#222" stroke-width="1"/></g>
<g><rect x="603.3" y="677.5" width="25.700000000000045" height="24.2" fill="url(#dw)" stroke="#5d5940" stroke-width="1.1"/><line x1="616.15" y1="677.5" x2="616.15" y2="701.7" stroke="#222" stroke-width="1"/></g>
<g transform="rotate(-8 692.0 685.5)"><rect x="678.0" y="673.0" width="28" height="25" fill="url(#dw)" stroke="#5d5940" stroke-width="1.1"/><line x1="692.0" y1="673.0" x2="692.0" y2="698.0" stroke="#222" stroke-width="1"/></g>
<g transform="rotate(-18 773.75 600.0)"><rect x="760.75" y="593.0" width="26" height="14" fill="url(#dw)" stroke="#5d5940" stroke-width="1.1"/></g>
<g transform="rotate(-18 787.5 638.75)"><rect x="774.5" y="631.75" width="26" height="14" fill="url(#dw)" stroke="#5d5940" stroke-width="1.1"/></g>
<g transform="rotate(-12 712.5 752.5)"><rect x="706.5" y="738.5" width="12" height="28" fill="url(#dw)" stroke="#5d5940" stroke-width="1.1"/></g>
<g transform="rotate(-15 756.0 744.0)"><rect x="744.0" y="730.0" width="24" height="28" fill="url(#dw)" stroke="#5d5940" stroke-width="1.1"/><line x1="756.0" y1="730.0" x2="756.0" y2="758.0" stroke="#222" stroke-width="1"/></g>
<g><rect x="718.4" y="894.3" width="25.5" height="25.7" fill="url(#dw)" stroke="#5d5940" stroke-width="1.1"/><line x1="731.15" y1="894.3" x2="731.15" y2="920.0" stroke="#222" stroke-width="1"/></g>
<g><rect x="811.4" y="894.3" width="25.3" height="25.7" fill="url(#dw)" stroke="#5d5940" stroke-width="1.1"/><line x1="824.05" y1="894.3" x2="824.05" y2="920.0" stroke="#222" stroke-width="1"/></g>
<g transform="rotate(40 905.0 905.6)"><rect x="892.0" y="892.6" width="26" height="26" fill="url(#dw)" stroke="#5d5940" stroke-width="1.1"/><line x1="905.0" y1="892.6" x2="905.0" y2="918.6" stroke="#222" stroke-width="1"/></g>
<g><rect x="718.4" y="958" width="25.5" height="25.3" fill="url(#dw)" stroke="#5d5940" stroke-width="1.1"/><line x1="731.15" y1="958" x2="731.15" y2="983.3" stroke="#222" stroke-width="1"/></g>
<g><rect x="811.4" y="958" width="25.3" height="25.3" fill="url(#dw)" stroke="#5d5940" stroke-width="1.1"/><line x1="824.05" y1="958" x2="824.05" y2="983.3" stroke="#222" stroke-width="1"/></g>
<polygon points="870.4,973 895,962 912,982 870.4,1009" fill="url(#dw)" stroke="#5d5940" stroke-width="1"/>
<g><rect x="300.6" y="749.7" width="25.099999999999966" height="24" fill="url(#dw)" stroke="#5d5940" stroke-width="1.1"/><line x1="313.15" y1="749.7" x2="313.15" y2="773.7" stroke="#222" stroke-width="1"/></g>
<g><rect x="369" y="749.7" width="26.399999999999977" height="24" fill="url(#dw)" stroke="#5d5940" stroke-width="1.1"/><line x1="382.2" y1="749.7" x2="382.2" y2="773.7" stroke="#222" stroke-width="1"/></g>
<g><rect x="431.5" y="749.7" width="26.69999999999999" height="24" fill="url(#dw)" stroke="#5d5940" stroke-width="1.1"/><line x1="444.85" y1="749.7" x2="444.85" y2="773.7" stroke="#222" stroke-width="1"/></g>
<g><rect x="491.6" y="749.7" width="25.699999999999932" height="24" fill="url(#dw)" stroke="#5d5940" stroke-width="1.1"/><line x1="504.45" y1="749.7" x2="504.45" y2="773.7" stroke="#222" stroke-width="1"/></g>
<g><rect x="557.2" y="749.7" width="26.699999999999932" height="24" fill="url(#dw)" stroke="#5d5940" stroke-width="1.1"/><line x1="570.55" y1="749.7" x2="570.55" y2="773.7" stroke="#222" stroke-width="1"/></g>
<g><rect x="606.4" y="749.7" width="13.1" height="24" fill="url(#dw)" stroke="#5d5940" stroke-width="1.1"/></g>
<g><rect x="300.6" y="896" width="25.099999999999966" height="24.5" fill="url(#dw)" stroke="#5d5940" stroke-width="1.1"/><line x1="313.15" y1="896" x2="313.15" y2="920.5" stroke="#222" stroke-width="1"/></g>
<g><rect x="369" y="896" width="26.399999999999977" height="24.5" fill="url(#dw)" stroke="#5d5940" stroke-width="1.1"/><line x1="382.2" y1="896" x2="382.2" y2="920.5" stroke="#222" stroke-width="1"/></g>
<g><rect x="432.8" y="896" width="25.399999999999977" height="24.5" fill="url(#dw)" stroke="#5d5940" stroke-width="1.1"/><line x1="445.5" y1="896" x2="445.5" y2="920.5" stroke="#222" stroke-width="1"/></g>
<g><rect x="524.2" y="896" width="26.799999999999955" height="24.5" fill="url(#dw)" stroke="#5d5940" stroke-width="1.1"/><line x1="537.6" y1="896" x2="537.6" y2="920.5" stroke="#222" stroke-width="1"/></g>
<g><rect x="594.2" y="896" width="25.299999999999955" height="24.5" fill="url(#dw)" stroke="#5d5940" stroke-width="1.1"/><line x1="606.85" y1="896" x2="606.85" y2="920.5" stroke="#222" stroke-width="1"/></g>
<g><rect x="492" y="896" width="12.5" height="24.5" fill="url(#dw)" stroke="#5d5940" stroke-width="1.1"/></g>
<g><rect x="212.5" y="764" width="23.5" height="24.700000000000045" fill="url(#dw)" stroke="#1d5e44" stroke-width="1.1"/></g>
<line x1="212.5" y1="776.35" x2="236" y2="776.35" stroke="#0E5A3E" stroke-width="1.2" />
<g><rect x="212.5" y="810.7" width="23.5" height="24.299999999999955" fill="url(#dw)" stroke="#1d5e44" stroke-width="1.1"/></g>
<line x1="212.5" y1="822.85" x2="236" y2="822.85" stroke="#0E5A3E" stroke-width="1.2" />
<g><rect x="212.5" y="855.7" width="23.5" height="25.699999999999932" fill="url(#dw)" stroke="#1d5e44" stroke-width="1.1"/></g>
<line x1="212.5" y1="868.55" x2="236" y2="868.55" stroke="#0E5A3E" stroke-width="1.2" />
<g transform="rotate(-6 219.5 920.0)"><rect x="206.5" y="914.0" width="26" height="12" fill="url(#dw)" stroke="#5d5940" stroke-width="1.1"/></g>
<g transform="rotate(50 233.3 956.7)"><rect x="221.3" y="943.2" width="24" height="27" fill="url(#dw)" stroke="#5d5940" stroke-width="1.1"/><line x1="233.3" y1="943.2" x2="233.3" y2="970.2" stroke="#222" stroke-width="1"/></g>
<g transform="rotate(12 266.7 975.0)"><rect x="260.7" y="962.5" width="12" height="25" fill="url(#dw)" stroke="#5d5940" stroke-width="1.1"/></g>
<g><rect x="320.4" y="959" width="26.200000000000045" height="25.5" fill="url(#dw)" stroke="#5d5940" stroke-width="1.1"/><line x1="333.5" y1="959" x2="333.5" y2="984.5" stroke="#222" stroke-width="1"/></g>
<g><rect x="396.6" y="959" width="25.0" height="25.5" fill="url(#dw)" stroke="#5d5940" stroke-width="1.1"/><line x1="409.1" y1="959" x2="409.1" y2="984.5" stroke="#222" stroke-width="1"/></g>
<g><rect x="474" y="959" width="26.399999999999977" height="25.5" fill="url(#dw)" stroke="#5d5940" stroke-width="1.1"/><line x1="487.2" y1="959" x2="487.2" y2="984.5" stroke="#222" stroke-width="1"/></g>
<g><rect x="554.8" y="959" width="26.200000000000045" height="25.5" fill="url(#dw)" stroke="#5d5940" stroke-width="1.1"/><line x1="567.9" y1="959" x2="567.9" y2="984.5" stroke="#222" stroke-width="1"/></g>
<g><rect x="607.3" y="959" width="12.2" height="25.5" fill="url(#dw)" stroke="#5d5940" stroke-width="1.1"/></g>
<path d="M155,1056.5 L993,1056.5" stroke="#8B6A40" stroke-width="4.5" fill="none" stroke-dasharray="10,6"/>
<path d="M653,955 L662,1010 L672,1056" stroke="#8B6A40" stroke-width="4.5" fill="none" stroke-dasharray="10,6"/>
<path d="M908,938.8 L993,938.8" stroke="#8B6A40" stroke-width="4.5" fill="none" stroke-dasharray="10,6"/>
<path d="M872,673 L884.6,664.3" stroke="#8B6A40" stroke-width="4.5" fill="none" stroke-dasharray="10,6"/>
<path d="M799.0,696.0 C801.9,693.6 811.0,685.3 816.5,681.7 C822.0,678.1 826.5,676.3 832.3,674.6 C838.1,672.9 844.7,671.7 851.3,671.4 C857.9,671.1 865.9,670.5 872.0,673.0 C878.1,675.5 883.6,681.1 887.8,686.5 C892.0,691.9 895.2,699.2 897.3,705.5 C899.4,711.8 898.8,718.7 900.4,724.5 C902.0,730.3 903.1,735.3 906.8,740.3 C910.5,745.3 917.1,750.6 922.6,754.6 C928.1,758.6 935.2,760.3 940.0,764.0 C944.8,767.7 947.5,772.5 951.2,776.8 C954.9,781.1 962.8,786.8 962.0,790.0 C961.2,793.2 953.0,794.8 946.4,795.8 C939.8,796.8 930.5,797.1 922.6,795.8 C914.7,794.5 905.8,791.6 898.9,787.9 C892.0,784.2 886.4,779.4 881.4,773.6 C876.4,767.8 872.7,759.3 868.7,753.0 C864.8,746.7 861.9,741.1 857.7,735.6 C853.5,730.1 849.8,724.7 843.4,719.7 C837.0,714.7 827.0,709.5 819.6,705.5 C812.2,701.5 802.4,697.6 799.0,696.0" stroke="#8B6A40" stroke-width="4.5" fill="none" stroke-dasharray="10,6"/>
<circle cx="800.6" cy="690.4" r="4.4" fill="#8ED066" stroke="#17701a" stroke-width="1.6"/>
<circle cx="812" cy="693" r="4.4" fill="#8ED066" stroke="#17701a" stroke-width="1.6"/>
<circle cx="822" cy="697" r="4.4" fill="#8ED066" stroke="#17701a" stroke-width="1.6"/>
<circle cx="832" cy="702" r="4.4" fill="#8ED066" stroke="#17701a" stroke-width="1.6"/>
<circle cx="841" cy="708" r="4.4" fill="#8ED066" stroke="#17701a" stroke-width="1.6"/>
<circle cx="850" cy="714" r="4.4" fill="#8ED066" stroke="#17701a" stroke-width="1.6"/>
<circle cx="858" cy="721" r="4.4" fill="#8ED066" stroke="#17701a" stroke-width="1.6"/>
<circle cx="893" cy="682" r="4.4" fill="#8ED066" stroke="#17701a" stroke-width="1.6"/>
<circle cx="896" cy="691" r="4.4" fill="#8ED066" stroke="#17701a" stroke-width="1.6"/>
<circle cx="908" cy="706" r="4.4" fill="#8ED066" stroke="#17701a" stroke-width="1.6"/>
<circle cx="913" cy="716" r="4.4" fill="#8ED066" stroke="#17701a" stroke-width="1.6"/>
<circle cx="918" cy="726" r="4.4" fill="#8ED066" stroke="#17701a" stroke-width="1.6"/>
<circle cx="923" cy="737" r="4.4" fill="#8ED066" stroke="#17701a" stroke-width="1.6"/>
<circle cx="928" cy="746" r="4.4" fill="#8ED066" stroke="#17701a" stroke-width="1.6"/>
<circle cx="934" cy="754" r="4.4" fill="#8ED066" stroke="#17701a" stroke-width="1.6"/>
<circle cx="912" cy="785" r="4.4" fill="#8ED066" stroke="#17701a" stroke-width="1.6"/>
<circle cx="923" cy="788" r="4.4" fill="#8ED066" stroke="#17701a" stroke-width="1.6"/>
<circle cx="934" cy="790" r="4.4" fill="#8ED066" stroke="#17701a" stroke-width="1.6"/>
<circle cx="945" cy="790" r="4.4" fill="#8ED066" stroke="#17701a" stroke-width="1.6"/>
<circle cx="797" cy="734" r="4.4" fill="#8ED066" stroke="#17701a" stroke-width="1.6"/>
<circle cx="839" cy="782" r="4.4" fill="#8ED066" stroke="#17701a" stroke-width="1.6"/>
<circle cx="846" cy="791" r="4.4" fill="#8ED066" stroke="#17701a" stroke-width="1.6"/>
<circle cx="866" cy="806" r="4.4" fill="#8ED066" stroke="#17701a" stroke-width="1.6"/>
<circle cx="876" cy="813" r="4.4" fill="#8ED066" stroke="#17701a" stroke-width="1.6"/>
<circle cx="887" cy="820" r="4.4" fill="#8ED066" stroke="#17701a" stroke-width="1.6"/>
<circle cx="962" cy="824" r="4.4" fill="#8ED066" stroke="#17701a" stroke-width="1.6"/>
<circle cx="972" cy="824" r="4.4" fill="#8ED066" stroke="#17701a" stroke-width="1.6"/>
<circle cx="658" cy="975" r="4.4" fill="#8ED066" stroke="#17701a" stroke-width="1.6"/>
<circle cx="662" cy="990" r="4.4" fill="#8ED066" stroke="#17701a" stroke-width="1.6"/>
<circle cx="656" cy="1000" r="4.4" fill="#8ED066" stroke="#17701a" stroke-width="1.6"/>
<circle cx="660" cy="1010" r="4.4" fill="#8ED066" stroke="#17701a" stroke-width="1.6"/>
<circle cx="665" cy="1022" r="4.4" fill="#8ED066" stroke="#17701a" stroke-width="1.6"/>
<circle cx="170" cy="1061" r="4.4" fill="#8ED066" stroke="#17701a" stroke-width="1.6"/>
<circle cx="182" cy="1061" r="4.4" fill="#8ED066" stroke="#17701a" stroke-width="1.6"/>
<circle cx="194" cy="1061" r="4.4" fill="#8ED066" stroke="#17701a" stroke-width="1.6"/>
<circle cx="206" cy="1061" r="4.4" fill="#8ED066" stroke="#17701a" stroke-width="1.6"/>
<circle cx="875" cy="1052" r="4.4" fill="#8ED066" stroke="#17701a" stroke-width="1.6"/>
<circle cx="890" cy="1052" r="4.4" fill="#8ED066" stroke="#17701a" stroke-width="1.6"/>
<circle cx="905" cy="1052" r="4.4" fill="#8ED066" stroke="#17701a" stroke-width="1.6"/>
<circle cx="920" cy="1052" r="4.4" fill="#8ED066" stroke="#17701a" stroke-width="1.6"/>
<circle cx="935" cy="1052" r="4.4" fill="#8ED066" stroke="#17701a" stroke-width="1.6"/>
<circle cx="950" cy="1052" r="4.4" fill="#8ED066" stroke="#17701a" stroke-width="1.6"/>
<circle cx="462" cy="1060" r="4.4" fill="#8ED066" stroke="#17701a" stroke-width="1.6"/>
<circle cx="478" cy="1060" r="4.4" fill="#8ED066" stroke="#17701a" stroke-width="1.6"/>
<circle cx="494" cy="1060" r="4.4" fill="#8ED066" stroke="#17701a" stroke-width="1.6"/>
<circle cx="510" cy="1060" r="4.4" fill="#8ED066" stroke="#17701a" stroke-width="1.6"/>
<circle cx="526" cy="1060" r="4.4" fill="#8ED066" stroke="#17701a" stroke-width="1.6"/>
<circle cx="542" cy="1060" r="4.4" fill="#8ED066" stroke="#17701a" stroke-width="1.6"/>
<text x="211" y="454.5" font-size="12.5" fill="#1a1a1a" font-weight="normal" font-style="normal" text-anchor="middle" stroke="#1a1a1a" stroke-width="0.6">15</text>
<text x="253" y="446.5" font-size="12.5" fill="#1a1a1a" font-weight="normal" font-style="normal" text-anchor="middle" stroke="#1a1a1a" stroke-width="0.6">16</text>
<text x="288" y="451.5" font-size="12.5" fill="#1a1a1a" font-weight="normal" font-style="normal" text-anchor="middle" stroke="#1a1a1a" stroke-width="0.6">17</text>
<text x="323" y="451.5" font-size="12.5" fill="#1a1a1a" font-weight="normal" font-style="normal" text-anchor="middle" stroke="#1a1a1a" stroke-width="0.6">18</text>
<text x="186" y="489.5" font-size="12.5" fill="#1a1a1a" font-weight="normal" font-style="normal" text-anchor="middle" stroke="#1a1a1a" stroke-width="0.6">14</text>
<text x="211" y="572.5" font-size="12.5" fill="#1a1a1a" font-weight="normal" font-style="normal" text-anchor="middle" stroke="#1a1a1a" stroke-width="0.6">12</text>
<text x="253" y="580.5" font-size="12.5" fill="#1a1a1a" font-weight="normal" font-style="normal" text-anchor="middle" stroke="#1a1a1a" stroke-width="0.6">11</text>
<text x="289" y="577.5" font-size="12.5" fill="#1a1a1a" font-weight="normal" font-style="normal" text-anchor="middle" stroke="#1a1a1a" stroke-width="0.6">10</text>
<text x="323" y="574.5" font-size="12.5" fill="#1a1a1a" font-weight="normal" font-style="normal" text-anchor="middle" stroke="#1a1a1a" stroke-width="0.6">9</text>
<circle cx="185" cy="534" r="9.8" fill="#E60000"/>
<text x="185" y="538.3" font-size="12" fill="#9a0008" font-weight="normal" font-style="normal" text-anchor="middle" stroke="#9a0008" stroke-width="0.3">13</text>
<text x="162.5" y="663.5" font-size="12.5" fill="#0B4A32" font-weight="normal" font-style="normal" text-anchor="middle" stroke="#0B4A32" stroke-width="0.6">1</text>
<text x="186" y="663.5" font-size="12.5" fill="#0B4A32" font-weight="normal" font-style="normal" text-anchor="middle" stroke="#0B4A32" stroke-width="0.6">2</text>
<text x="209" y="663.5" font-size="12.5" fill="#0B4A32" font-weight="normal" font-style="normal" text-anchor="middle" stroke="#0B4A32" stroke-width="0.6">3</text>
<text x="232" y="663.5" font-size="12.5" fill="#0B4A32" font-weight="normal" font-style="normal" text-anchor="middle" stroke="#0B4A32" stroke-width="0.6">4</text>
<text x="255" y="663.5" font-size="12.5" fill="#0B4A32" font-weight="normal" font-style="normal" text-anchor="middle" stroke="#0B4A32" stroke-width="0.6">5</text>
<text x="279" y="663.5" font-size="12.5" fill="#0B4A32" font-weight="normal" font-style="normal" text-anchor="middle" stroke="#0B4A32" stroke-width="0.6">6</text>
<text x="303" y="663.5" font-size="12.5" fill="#0B4A32" font-weight="normal" font-style="normal" text-anchor="middle" stroke="#0B4A32" stroke-width="0.6">7</text>
<text x="328" y="663.5" font-size="12.5" fill="#0B4A32" font-weight="normal" font-style="normal" text-anchor="middle" stroke="#0B4A32" stroke-width="0.6">8</text>
<text x="399" y="662.5" font-size="12.5" fill="#1a1a1a" font-weight="normal" font-style="normal" text-anchor="middle" stroke="#1a1a1a" stroke-width="0.6">1</text>
<text x="472" y="662.5" font-size="12.5" fill="#1a1a1a" font-weight="normal" font-style="normal" text-anchor="middle" stroke="#1a1a1a" stroke-width="0.6">3</text>
<text x="505" y="662.5" font-size="12.5" fill="#1a1a1a" font-weight="normal" font-style="normal" text-anchor="middle" stroke="#1a1a1a" stroke-width="0.6">4</text>
<text x="537" y="662.5" font-size="12.5" fill="#1a1a1a" font-weight="normal" font-style="normal" text-anchor="middle" stroke="#1a1a1a" stroke-width="0.6">5</text>
<text x="569" y="662.5" font-size="12.5" fill="#1a1a1a" font-weight="normal" font-style="normal" text-anchor="middle" stroke="#1a1a1a" stroke-width="0.6">6</text>
<text x="601" y="662.5" font-size="12.5" fill="#1a1a1a" font-weight="normal" font-style="normal" text-anchor="middle" stroke="#1a1a1a" stroke-width="0.6">7</text>
<circle cx="436.3" cy="659.7" r="9.8" fill="#E60000"/>
<text x="436.3" y="664.0" font-size="12" fill="#9a0008" font-weight="normal" font-style="normal" text-anchor="middle" stroke="#9a0008" stroke-width="0.3">2</text>
<circle cx="634" cy="658" r="9.8" fill="#E60000"/>
<text x="634" y="662.3" font-size="12" fill="#9a0008" font-weight="normal" font-style="normal" text-anchor="middle" stroke="#9a0008" stroke-width="0.3">8</text>
<circle cx="669" cy="658" r="9.8" fill="#E60000"/>
<text x="669" y="662.3" font-size="12" fill="#9a0008" font-weight="normal" font-style="normal" text-anchor="middle" stroke="#9a0008" stroke-width="0.3">9</text>
<circle cx="707.5" cy="655" r="9.8" fill="#E60000"/>
<text x="707.5" y="659.3" font-size="12" fill="#9a0008" font-weight="normal" font-style="normal" text-anchor="middle" stroke="#9a0008" stroke-width="0.3">10</text>
<circle cx="807" cy="603.75" r="10" fill="#E60000"/>
<text x="807" y="608.05" font-size="12" fill="#9a0008" font-weight="normal" font-style="normal" text-anchor="middle" stroke="#9a0008" stroke-width="0.3">2</text>
<circle cx="823.75" cy="643.75" r="10" fill="#E60000"/>
<text x="823.75" y="648.05" font-size="12" fill="#9a0008" font-weight="normal" font-style="normal" text-anchor="middle" stroke="#9a0008" stroke-width="0.3">1</text>
<circle cx="705" cy="788.75" r="9.8" fill="#E60000"/>
<text x="705" y="793.05" font-size="12" fill="#9a0008" font-weight="normal" font-style="normal" text-anchor="middle" stroke="#9a0008" stroke-width="0.3">12</text>
<circle cx="747.5" cy="785" r="9.8" fill="#E60000"/>
<text x="747.5" y="789.3" font-size="12" fill="#9a0008" font-weight="normal" font-style="normal" text-anchor="middle" stroke="#9a0008" stroke-width="0.3">13</text>
<circle cx="801.25" cy="781.25" r="9.8" fill="#E60000"/>
<text x="801.25" y="785.55" font-size="12" fill="#9a0008" font-weight="normal" font-style="normal" text-anchor="middle" stroke="#9a0008" stroke-width="0.3">14</text>
<text x="707" y="881.5" font-size="12.5" fill="#1a1a1a" font-weight="normal" font-style="normal" text-anchor="middle" stroke="#1a1a1a" stroke-width="0.6">11</text>
<text x="754" y="881.5" font-size="12.5" fill="#1a1a1a" font-weight="normal" font-style="normal" text-anchor="middle" stroke="#1a1a1a" stroke-width="0.6">10</text>
<text x="800" y="881.5" font-size="12.5" fill="#1a1a1a" font-weight="normal" font-style="normal" text-anchor="middle" stroke="#1a1a1a" stroke-width="0.6">9</text>
<text x="846" y="877.5" font-size="12.5" fill="#1a1a1a" font-weight="normal" font-style="normal" text-anchor="middle" stroke="#1a1a1a" stroke-width="0.6">8</text>
<circle cx="900.8" cy="873" r="9.8" fill="#E60000"/>
<text x="900.8" y="877.3" font-size="12" fill="#9a0008" font-weight="normal" font-style="normal" text-anchor="middle" stroke="#9a0008" stroke-width="0.3">8</text>
<circle cx="941.5" cy="904.5" r="9.8" fill="#E60000"/>
<text x="941.5" y="908.8" font-size="12" fill="#9a0008" font-weight="normal" font-style="normal" text-anchor="middle" stroke="#9a0008" stroke-width="0.3">7</text>
<circle cx="707.6" cy="1001" r="9.8" fill="#E60000"/>
<text x="707.6" y="1005.3" font-size="12" fill="#9a0008" font-weight="normal" font-style="normal" text-anchor="middle" stroke="#9a0008" stroke-width="0.3">1</text>
<text x="755" y="1005.5" font-size="12.5" fill="#1a1a1a" font-weight="normal" font-style="normal" text-anchor="middle" stroke="#1a1a1a" stroke-width="0.6">2</text>
<circle cx="800.6" cy="1001" r="9.8" fill="#E60000"/>
<text x="800.6" y="1005.3" font-size="12" fill="#9a0008" font-weight="normal" font-style="normal" text-anchor="middle" stroke="#9a0008" stroke-width="0.3">3</text>
<circle cx="847" cy="1004" r="9.8" fill="#E60000"/>
<text x="847" y="1008.3" font-size="12" fill="#9a0008" font-weight="normal" font-style="normal" text-anchor="middle" stroke="#9a0008" stroke-width="0.3">4</text>
<circle cx="924.5" cy="1001" r="9.8" fill="#E60000"/>
<text x="924.5" y="1005.3" font-size="12" fill="#9a0008" font-weight="normal" font-style="normal" text-anchor="middle" stroke="#9a0008" stroke-width="0.3">5</text>
<text x="295" y="793.0" font-size="12.5" fill="#1a1a1a" font-weight="normal" font-style="normal" text-anchor="middle" stroke="#1a1a1a" stroke-width="0.6">1</text>
<text x="331.7" y="793.0" font-size="12.5" fill="#1a1a1a" font-weight="normal" font-style="normal" text-anchor="middle" stroke="#1a1a1a" stroke-width="0.6">2</text>
<text x="365.7" y="793.0" font-size="12.5" fill="#1a1a1a" font-weight="normal" font-style="normal" text-anchor="middle" stroke="#1a1a1a" stroke-width="0.6">3</text>
<text x="399.6" y="793.0" font-size="12.5" fill="#1a1a1a" font-weight="normal" font-style="normal" text-anchor="middle" stroke="#1a1a1a" stroke-width="0.6">4</text>
<text x="431" y="793.0" font-size="12.5" fill="#1a1a1a" font-weight="normal" font-style="normal" text-anchor="middle" stroke="#1a1a1a" stroke-width="0.6">5</text>
<text x="489.7" y="793.0" font-size="12.5" fill="#1a1a1a" font-weight="normal" font-style="normal" text-anchor="middle" stroke="#1a1a1a" stroke-width="0.6">7</text>
<text x="521" y="793.0" font-size="12.5" fill="#1a1a1a" font-weight="normal" font-style="normal" text-anchor="middle" stroke="#1a1a1a" stroke-width="0.6">8</text>
<text x="554" y="793.0" font-size="12.5" fill="#1a1a1a" font-weight="normal" font-style="normal" text-anchor="middle" stroke="#1a1a1a" stroke-width="0.6">9</text>
<text x="588.5" y="790.5" font-size="12.5" fill="#1a1a1a" font-weight="normal" font-style="normal" text-anchor="middle" stroke="#1a1a1a" stroke-width="0.6">10</text>
<text x="626" y="793.0" font-size="12.5" fill="#1a1a1a" font-weight="normal" font-style="normal" text-anchor="middle" stroke="#1a1a1a" stroke-width="0.6">11</text>
<circle cx="459.6" cy="788.5" r="9.8" fill="#E60000"/>
<text x="459.6" y="792.8" font-size="12" fill="#9a0008" font-weight="normal" font-style="normal" text-anchor="middle" stroke="#9a0008" stroke-width="0.3">6</text>
<text x="331.7" y="885.0" font-size="12.5" fill="#1a1a1a" font-weight="normal" font-style="normal" text-anchor="middle" stroke="#1a1a1a" stroke-width="0.6">21</text>
<text x="365.7" y="885.0" font-size="12.5" fill="#1a1a1a" font-weight="normal" font-style="normal" text-anchor="middle" stroke="#1a1a1a" stroke-width="0.6">20</text>
<text x="399.6" y="885.0" font-size="12.5" fill="#1a1a1a" font-weight="normal" font-style="normal" text-anchor="middle" stroke="#1a1a1a" stroke-width="0.6">19</text>
<text x="431" y="885.0" font-size="12.5" fill="#1a1a1a" font-weight="normal" font-style="normal" text-anchor="middle" stroke="#1a1a1a" stroke-width="0.6">18</text>
<text x="489.7" y="885.0" font-size="12.5" fill="#1a1a1a" font-weight="normal" font-style="normal" text-anchor="middle" stroke="#1a1a1a" stroke-width="0.6">16</text>
<text x="521" y="885.0" font-size="12.5" fill="#1a1a1a" font-weight="normal" font-style="normal" text-anchor="middle" stroke="#1a1a1a" stroke-width="0.6">15</text>
<text x="554" y="885.0" font-size="12.5" fill="#1a1a1a" font-weight="normal" font-style="normal" text-anchor="middle" stroke="#1a1a1a" stroke-width="0.6">14</text>
<text x="588.5" y="885.0" font-size="12.5" fill="#1a1a1a" font-weight="normal" font-style="normal" text-anchor="middle" stroke="#1a1a1a" stroke-width="0.6">13</text>
<text x="626" y="885.0" font-size="12.5" fill="#1a1a1a" font-weight="normal" font-style="normal" text-anchor="middle" stroke="#1a1a1a" stroke-width="0.6">12</text>
<circle cx="294" cy="881.4" r="9.8" fill="#E60000"/>
<text x="294" y="885.6999999999999" font-size="12" fill="#9a0008" font-weight="normal" font-style="normal" text-anchor="middle" stroke="#9a0008" stroke-width="0.3">22</text>
<circle cx="460" cy="881" r="9.8" fill="#E60000"/>
<text x="460" y="885.3" font-size="12" fill="#9a0008" font-weight="normal" font-style="normal" text-anchor="middle" stroke="#9a0008" stroke-width="0.3">17</text>
<text x="193.8" y="766.5" font-size="12.5" fill="#0B4A32" font-weight="normal" font-style="normal" text-anchor="middle" stroke="#0B4A32" stroke-width="0.6">1</text>
<text x="193.8" y="792.0" font-size="12.5" fill="#0B4A32" font-weight="normal" font-style="normal" text-anchor="middle" stroke="#0B4A32" stroke-width="0.6">2</text>
<text x="193.8" y="815.5" font-size="12.5" fill="#0B4A32" font-weight="normal" font-style="normal" text-anchor="middle" stroke="#0B4A32" stroke-width="0.6">3</text>
<text x="193.8" y="838.5" font-size="12.5" fill="#0B4A32" font-weight="normal" font-style="normal" text-anchor="middle" stroke="#0B4A32" stroke-width="0.6">4</text>
<text x="193.8" y="862.0" font-size="12.5" fill="#0B4A32" font-weight="normal" font-style="normal" text-anchor="middle" stroke="#0B4A32" stroke-width="0.6">5</text>
<text x="193.8" y="884.5" font-size="12.5" fill="#0B4A32" font-weight="normal" font-style="normal" text-anchor="middle" stroke="#0B4A32" stroke-width="0.6">6</text>
<circle cx="193" cy="910" r="9.8" fill="#E60000"/>
<text x="193" y="914.3" font-size="12" fill="#9a0008" font-weight="normal" font-style="normal" text-anchor="middle" stroke="#9a0008" stroke-width="0.3">7</text>
<circle cx="194.4" cy="958.8" r="9.8" fill="#E60000"/>
<text x="194.4" y="963.0999999999999" font-size="12" fill="#9a0008" font-weight="normal" font-style="normal" text-anchor="middle" stroke="#9a0008" stroke-width="0.3">8</text>
<circle cx="225" cy="995.6" r="9.8" fill="#E60000"/>
<text x="225" y="999.9" font-size="12" fill="#9a0008" font-weight="normal" font-style="normal" text-anchor="middle" stroke="#9a0008" stroke-width="0.3">9</text>
<circle cx="274" cy="1003" r="9.8" fill="#E60000"/>
<text x="274" y="1007.3" font-size="12" fill="#9a0008" font-weight="normal" font-style="normal" text-anchor="middle" stroke="#9a0008" stroke-width="0.3">10</text>
<circle cx="315" cy="1003" r="9.8" fill="#E60000"/>
<text x="315" y="1007.3" font-size="12" fill="#9a0008" font-weight="normal" font-style="normal" text-anchor="middle" stroke="#9a0008" stroke-width="0.3">11</text>
<circle cx="352" cy="1003" r="9.8" fill="#E60000"/>
<text x="352" y="1007.3" font-size="12" fill="#9a0008" font-weight="normal" font-style="normal" text-anchor="middle" stroke="#9a0008" stroke-width="0.3">12</text>
<circle cx="390" cy="1003" r="9.8" fill="#E60000"/>
<text x="390" y="1007.3" font-size="12" fill="#9a0008" font-weight="normal" font-style="normal" text-anchor="middle" stroke="#9a0008" stroke-width="0.3">13</text>
<circle cx="428" cy="1001" r="9.8" fill="#E60000"/>
<text x="428" y="1005.3" font-size="12" fill="#9a0008" font-weight="normal" font-style="normal" text-anchor="middle" stroke="#9a0008" stroke-width="0.3">14</text>
<circle cx="587" cy="1001" r="9.8" fill="#E60000"/>
<text x="587" y="1005.3" font-size="12" fill="#9a0008" font-weight="normal" font-style="normal" text-anchor="middle" stroke="#9a0008" stroke-width="0.3">18</text>
<circle cx="627" cy="1001" r="9.8" fill="#E60000"/>
<text x="627" y="1005.3" font-size="12" fill="#9a0008" font-weight="normal" font-style="normal" text-anchor="middle" stroke="#9a0008" stroke-width="0.3">19</text>
<text x="467" y="1005.5" font-size="12.5" fill="#1a1a1a" font-weight="normal" font-style="normal" text-anchor="middle" stroke="#1a1a1a" stroke-width="0.6">15</text>
<text x="507" y="1005.5" font-size="12.5" fill="#1a1a1a" font-weight="normal" font-style="normal" text-anchor="middle" stroke="#1a1a1a" stroke-width="0.6">16</text>
<text x="547" y="1005.5" font-size="12.5" fill="#1a1a1a" font-weight="normal" font-style="normal" text-anchor="middle" stroke="#1a1a1a" stroke-width="0.6">17</text>
<text x="245.5" y="421.6" font-size="16" fill="#111" font-weight="bold" font-style="normal" text-anchor="middle" textLength="69" lengthAdjust="spacingAndGlyphs">BLOCK 4</text>
<text x="246" y="641" font-size="16" fill="#0B3A28" font-weight="bold" font-style="normal" text-anchor="middle" textLength="70" lengthAdjust="spacingAndGlyphs">BLOCK 4</text>
<text x="551" y="640" font-size="16" fill="#111" font-weight="bold" font-style="normal" text-anchor="middle" textLength="69" lengthAdjust="spacingAndGlyphs">BLOCK 5</text>
<text x="460" y="822" font-size="16" fill="#111" font-weight="bold" font-style="normal" text-anchor="middle" textLength="70" lengthAdjust="spacingAndGlyphs">BLOCK 3</text>
<text x="777.5" y="826" font-size="16" fill="#111" font-weight="bold" font-style="normal" text-anchor="middle" textLength="67" lengthAdjust="spacingAndGlyphs">BLOCK 2</text>
<text x="839" y="1037" font-size="16" fill="#111" font-weight="bold" font-style="normal" text-anchor="middle" textLength="70" lengthAdjust="spacingAndGlyphs">BLOCK 2</text>
<text x="400" y="1038.4" font-size="16" fill="#111" font-weight="bold" font-style="normal" text-anchor="middle" textLength="67" lengthAdjust="spacingAndGlyphs">BLOCK 1</text>
<text x="169.5" y="831.8" font-size="16" fill="#0B3A28" font-weight="bold" font-style="normal" text-anchor="middle" transform="rotate(-90 169.5 831.8)" textLength="70" lengthAdjust="spacingAndGlyphs">BLOCK 1</text>
<text x="837" y="617.5" font-size="16" fill="#111" font-weight="bold" font-style="normal" text-anchor="middle" transform="rotate(63 837 617.5)" textLength="70" lengthAdjust="spacingAndGlyphs">BLOCK 6</text>
<text x="245" y="387" font-size="27" fill="#111" font-weight="normal" font-style="normal" text-anchor="middle" textLength="142" lengthAdjust="spacingAndGlyphs">PHASE 2A</text>
<text x="596.5" y="591" font-size="28" fill="#111" font-weight="normal" font-style="normal" text-anchor="middle" textLength="120" lengthAdjust="spacingAndGlyphs">PHASE 1</text>
<text x="596" y="302.5" font-size="14" fill="#222" font-weight="normal" font-style="italic" text-anchor="middle" stroke="#222" stroke-width="0.5" textLength="228" lengthAdjust="spacingAndGlyphs">FUTURE&#160;&#160;EAGLESHAM&#160;&#160;AVENUE</text>
<text x="595" y="398.8" font-size="21" fill="#222" font-weight="normal" font-style="italic" text-anchor="middle" textLength="261" lengthAdjust="spacingAndGlyphs">FUTURE DEVELOPMENT</text>
<text x="596" y="420.5" font-size="14" fill="#222" font-weight="bold" font-style="italic" text-anchor="middle" textLength="282" lengthAdjust="spacingAndGlyphs">(SUBJECT TO CHANGE AND APPROVAL</text>
<text x="596" y="440" font-size="14" fill="#222" font-weight="bold" font-style="italic" text-anchor="middle" textLength="199" lengthAdjust="spacingAndGlyphs">OF THE CITY OF WEYBURN)</text>
<text x="310.8" y="513" font-size="12" fill="#EEEEEE" font-weight="bold" font-style="normal" text-anchor="middle" textLength="85.6" lengthAdjust="spacingAndGlyphs">BEGGS PLACE</text>
<text x="363.5" y="442.5" font-size="12" fill="#EEEEEE" font-weight="bold" font-style="normal" text-anchor="middle" transform="rotate(-90 363.5 442.5)" textLength="73" lengthAdjust="spacingAndGlyphs">HAMM ROAD</text>
<text x="363.5" y="665" font-size="12" fill="#EEEEEE" font-weight="bold" font-style="normal" text-anchor="middle" transform="rotate(-90 363.5 665)" textLength="73" lengthAdjust="spacingAndGlyphs">HAMM ROAD</text>
<text x="489" y="730.3" font-size="14" fill="#EEEEEE" font-weight="normal" font-style="normal" text-anchor="middle" textLength="125" lengthAdjust="spacingAndGlyphs">COTEAU AVENUE</text>
<text x="460.3" y="944.7" font-size="12" fill="#EEEEEE" font-weight="bold" font-style="normal" text-anchor="middle" textLength="85" lengthAdjust="spacingAndGlyphs">DELAET DRIVE</text>
<text x="260" y="863" font-size="12" fill="#EEEEEE" font-weight="bold" font-style="normal" text-anchor="middle" transform="rotate(-90 260 863)" textLength="85" lengthAdjust="spacingAndGlyphs">DELAET DRIVE</text>
<text x="668.5" y="835" font-size="12" fill="#EEEEEE" font-weight="bold" font-style="normal" text-anchor="middle" transform="rotate(-90 668.5 835)" textLength="86" lengthAdjust="spacingAndGlyphs">DELAET DRIVE</text>
<text x="778" y="943.4" font-size="12.5" fill="#EEEEEE" font-weight="bold" font-style="normal" text-anchor="middle" textLength="128" lengthAdjust="spacingAndGlyphs">CREEKSIDE TERRACE</text>
<text x="757.8" y="656" font-size="12" fill="#EEEEEE" font-weight="bold" font-style="normal" text-anchor="middle" transform="rotate(65.8 757.8 656)" textLength="70" lengthAdjust="spacingAndGlyphs">CREEKSIDE</text>
<text x="744.1" y="659.3" font-size="12" fill="#EEEEEE" font-weight="bold" font-style="normal" text-anchor="middle" transform="rotate(65.8 744.1 659.3)" textLength="28" lengthAdjust="spacingAndGlyphs">WAY</text>
<text x="545" y="619.7" font-size="9" fill="#F0E8D0" font-weight="bold" font-style="normal" text-anchor="middle" textLength="57" lengthAdjust="spacingAndGlyphs">REAR&#160;&#160;LANE</text>
<text x="460" y="838.4" font-size="9" fill="#F0E8D0" font-weight="bold" font-style="normal" text-anchor="middle" textLength="56" lengthAdjust="spacingAndGlyphs">REAR&#160;&#160;LANE</text>
<text x="958.4" y="575" font-size="11.5" fill="#EEF" font-weight="bold" font-style="normal" text-anchor="middle" transform="rotate(58.4 958.4 575)" textLength="106" lengthAdjust="spacingAndGlyphs">TATAGWA CREEK</text>
<text x="1027" y="708.7" font-size="16.5" fill="#111" font-weight="bold" font-style="italic" text-anchor="middle" >FUTURE</text>
<text x="1027" y="727.8000000000001" font-size="16.5" fill="#111" font-weight="bold" font-style="italic" text-anchor="middle" >TATAGWA</text>
<text x="1027" y="746.9000000000001" font-size="16.5" fill="#111" font-weight="bold" font-style="italic" text-anchor="middle" >PARKWAY</text>
<text x="1027" y="766.0" font-size="16.5" fill="#111" font-weight="bold" font-style="italic" text-anchor="middle" >ZONE</text>
<text x="875.5" y="742" font-size="19" fill="#111" font-weight="bold" font-style="normal" text-anchor="middle" transform="rotate(30 875.5 742)" textLength="38" lengthAdjust="spacingAndGlyphs">MR2</text>
<text x="858.5" y="705" font-size="9" fill="#111" font-weight="bold" font-style="normal" text-anchor="middle" transform="rotate(29 858.5 705)" textLength="52" lengthAdjust="spacingAndGlyphs">MUNICIPAL</text>
<text x="909.5" y="771.5" font-size="9" fill="#111" font-weight="bold" font-style="normal" text-anchor="middle" transform="rotate(24 909.5 771.5)" textLength="43" lengthAdjust="spacingAndGlyphs">RESERVE</text>
<text x="585.7" y="1060.3" font-size="16" fill="#111" font-weight="bold" font-style="normal" text-anchor="middle" textLength="32" lengthAdjust="spacingAndGlyphs">MR1</text>
<text x="405" y="1057.5" font-size="9" fill="#111" font-weight="bold" font-style="normal" text-anchor="middle" textLength="50" lengthAdjust="spacingAndGlyphs">MUNICIPAL</text>
<text x="754" y="1058" font-size="9" fill="#111" font-weight="bold" font-style="normal" text-anchor="middle" textLength="44" lengthAdjust="spacingAndGlyphs">RESERVE</text>
<text x="951.5" y="942" font-size="7" fill="#111" font-weight="bold" font-style="normal" text-anchor="middle" textLength="42" lengthAdjust="spacingAndGlyphs">WALKWAY</text>
<path d="M152.5,401 L385,401" stroke="#000" stroke-width="6" fill="none" stroke-dasharray="32,15"/>
<path d="M382,408 L382,612" stroke="#000" stroke-width="6" fill="none" stroke-dasharray="32,15"/>
<path d="M150,614 L382,614" stroke="#000" stroke-width="6" fill="none" stroke-dasharray="32,15" stroke-dashoffset="16"/>
<path d="M365,608 L720,608 L755,597 L840,567" stroke="#000" stroke-width="6" fill="none" stroke-dasharray="32,15"/>
<path d="M840,567 L875,652 L992,832" stroke="#000" stroke-width="6" fill="none" stroke-dasharray="32,15"/>
<path d="M996,840 L996,1070" stroke="#000" stroke-width="6" fill="none" stroke-dasharray="32,15"/>
<path d="M150,1070 L996,1070" stroke="#000" stroke-width="6" fill="none" stroke-dasharray="32,15"/>
<path d="M148,410 L148,1070" stroke="#000" stroke-width="6" fill="none" stroke-dasharray="32,15"/>
<path d="M16,1083 L16,119.5 Q16,109.5 26,109.5 L1579,109.5 L1587.5,118 L1587.5,1085 L1579.5,1093 L26,1093 Q16,1093 16,1083 Z" fill="none" stroke="#000" stroke-width="5.5" />
<text x="240" y="170.6" font-size="49.5" fill="#000" font-weight="bold" font-style="normal" text-anchor="start" stroke="#000" stroke-width="1.2" textLength="317" lengthAdjust="spacingAndGlyphs">THE CREEKS</text>
<line x1="238" y1="181" x2="558" y2="181" stroke="#000" stroke-width="1.5" />
<text x="236.8" y="229.2" font-size="49.5" fill="#000" font-weight="bold" font-style="normal" text-anchor="start" stroke="#000" stroke-width="1.2" textLength="444" lengthAdjust="spacingAndGlyphs">MARKETING PLAN</text>
<text x="1046.9" y="270" font-size="22" fill="#000" font-weight="bold" font-style="normal" text-anchor="start" textLength="108.7" lengthAdjust="spacingAndGlyphs">LEGEND:</text>
<line x1="1046" y1="276.8" x2="1157" y2="276.8" stroke="#111" stroke-width="2" />
<rect x="1048" y="303.5" width="46.6" height="28.5" fill="#F9E6B2" stroke="#111" stroke-width="2"/>
<rect x="1048" y="362" width="46.6" height="28" fill="#5EEEC6" stroke="#111" stroke-width="2"/>
<defs><pattern id="dwl" width="7" height="6" patternUnits="userSpaceOnUse"><rect width="7" height="6" fill="#FBFAF6"/><rect x="1" y="1" width="1.2" height="1.2" fill="#777"/><rect x="4.5" y="3.8" width="1.2" height="1.2" fill="#777"/></pattern></defs>
<rect x="1050" y="424" width="43.5" height="22" fill="url(#dwl)" stroke="#444" stroke-width="1.2"/>
<circle cx="1071.6" cy="484.6" r="11.6" fill="#E80808"/>
<text x="1118" y="312" font-size="15.5" fill="#1a1a1a" font-weight="normal" font-style="normal" text-anchor="start" textLength="60" lengthAdjust="spacingAndGlyphs">SINGLE</text>
<text x="1118" y="331" font-size="15.5" fill="#1a1a1a" font-weight="normal" font-style="normal" text-anchor="start" textLength="126" lengthAdjust="spacingAndGlyphs">DETACHED LOT</text>
<text x="1118" y="371.3" font-size="15.5" fill="#1a1a1a" font-weight="normal" font-style="normal" text-anchor="start" textLength="136" lengthAdjust="spacingAndGlyphs">SEMI-DETACHED</text>
<text x="1118" y="391" font-size="15.5" fill="#1a1a1a" font-weight="normal" font-style="normal" text-anchor="start" textLength="31" lengthAdjust="spacingAndGlyphs">LOT</text>
<text x="1118" y="430" font-size="15.5" fill="#1a1a1a" font-weight="normal" font-style="normal" text-anchor="start" textLength="86.5" lengthAdjust="spacingAndGlyphs">DRIVEWAY</text>
<text x="1118" y="450.5" font-size="15.5" fill="#1a1a1a" font-weight="normal" font-style="normal" text-anchor="start" textLength="83" lengthAdjust="spacingAndGlyphs">LOCATION</text>
<text x="1118" y="490" font-size="15.5" fill="#1a1a1a" font-weight="normal" font-style="normal" text-anchor="start" textLength="81" lengthAdjust="spacingAndGlyphs">SOLD LOT</text>
<path d="M1200,545 L1202.5,565 L1209,606 Q1210,614 1205,618 L1200,622 L1195,618 Q1190,614 1191,606 L1197.5,565 Z" fill="#000" stroke="none" stroke-width="1" />
<line x1="1200" y1="618" x2="1200" y2="637" stroke="#000" stroke-width="2.2" />
<circle cx="1200" cy="657" r="19.5" fill="#fff" stroke="#000" stroke-width="2.6"/>
<circle cx="1200" cy="657" r="16" fill="none" stroke="#000" stroke-width="0.9"/>
<line x1="1175" y1="657" x2="1181" y2="657" stroke="#000" stroke-width="1.5" />
<line x1="1219" y1="657" x2="1225" y2="657" stroke="#000" stroke-width="1.5" />
<text x="1200" y="666.5" font-size="26" font-weight="bold" text-anchor="middle" fill="#000" style="font-family:'Liberation Serif',serif" textLength="26" lengthAdjust="spacingAndGlyphs">N</text>
<line x1="1200" y1="677" x2="1200" y2="697" stroke="#000" stroke-width="2.2" />
<ellipse cx="1200" cy="699" rx="3" ry="4" fill="#000"/>
<path d="M1196.5,704 L1203.5,704 L1208,716 L1210,752 Q1210,762 1204,766 L1200,771 L1196,766 Q1190,762 1190,752 L1192,716 Z" fill="#000" stroke="none" stroke-width="1" />
<defs><clipPath id="raysclip"><rect x="28" y="117" width="140" height="50"/></clipPath></defs>
<g clip-path="url(#raysclip)"><polygon points="60,153 -89.8,145.1 -86.7,121.8" fill="#F4B978"/><polygon points="60,153 -79.6,98.0 -69.2,76.9" fill="#F4B978"/><polygon points="60,153 -54.9,56.6 -38.4,39.8" fill="#F4B978"/><polygon points="60,153 -18.4,25.1 2.6,14.4" fill="#F4B978"/><polygon points="60,153 26.3,6.8 49.5,3.4" fill="#F4B978"/><polygon points="60,153 74.4,3.7 97.6,7.8" fill="#F4B978"/><polygon points="60,153 121.0,16.0 141.7,27.2" fill="#F4B978"/><polygon points="60,153 161.3,42.4 177.4,59.6" fill="#F4B978"/><polygon points="60,153 191.2,80.3 201.0,101.7" fill="#F4B978"/><polygon points="60,153 207.5,125.7 209.9,149.1" fill="#F4B978"/><circle cx="60" cy="153" r="17" fill="#FFFDF8"/><ellipse cx="48" cy="160" rx="22" ry="5" fill="#E39A48"/></g>
<defs><linearGradient id="hillg" x1="0" y1="0" x2="0" y2="1"><stop offset="0" stop-color="#8CC29A"/><stop offset="0.45" stop-color="#4F9666"/><stop offset="1" stop-color="#2B7A47"/></linearGradient></defs>
<path d="M28,158 C42,163 60,167 92,167 L112,164 L118,160 L121,146 L124,160 L140,157 L152,152 L166,146 L168,133 L171,145 L176,140 L180,138 L183,126 L186,139 L190,136 L193,132 L196,146 L200,144 L206,150 L206,236 L28,236 Z" fill="url(#hillg)" stroke="none" stroke-width="1" />
<rect x="28" y="172" width="178" height="18" fill="#5C9A6C"/>
<text x="117" y="236" font-size="84" fill="#F4FBF4" text-anchor="middle" style="font-family:'Liberation Serif',serif" textLength="178" lengthAdjust="spacingAndGlyphs">CREEKS</text>
<text x="157" y="172" font-size="10" fill="#E8F2E8" text-anchor="middle" style="font-family:'Liberation Serif',serif">THE</text>
<rect x="28" y="239.4" width="178" height="5.4" fill="#E8A04A"/>
<rect x="28" y="247.6" width="178" height="2.8" fill="#2E7A40"/>
<path d="M8.5,8.5 L186,8.5 L186,218.5 L8.5,218.5 Z M9,9 L168,9 L168,172 L9,172 Z" fill="#fff" fill-opacity="0.42" fill-rule="evenodd"/>
<path d="M32,29 L76,29 L76,150.5 L32,150.5 Z M93.5,29 L108.5,29 A29,29 0 0 1 108.5,87 L93.5,87 Z M93.5,92 L154.5,150.5 L93.5,150.5 Z" fill="#fff" fill-opacity="0.42"/>
<path d="M9,9 L168,9 L168,172 L9,172 Z M32,29 L76,29 L76,150.5 L32,150.5 Z M93.5,29 L108.5,29 A29,29 0 0 1 108.5,87 L93.5,87 Z M93.5,92 L154.5,150.5 L93.5,150.5 Z" fill="#000" fill-opacity="0.38" fill-rule="evenodd"/>
<text x="12" y="208" font-size="36" fill="#1a1a1a" fill-opacity="0.62" text-anchor="start" textLength="150" lengthAdjust="spacingAndGlyphs">REALTOR</text>
<text x="164" y="192" font-size="14" fill="#1a1a1a" fill-opacity="0.5" text-anchor="start">®</text>
<circle cx="1518.2" cy="1184.5" r="5.2" fill="none" stroke="#4A8CB5" stroke-width="2.6"/>
<path d="M1513.5,1187.5 L1518.2,1199 L1522.9,1187.5 Z" fill="#55A0CC"/>
</svg>
</body></html>
